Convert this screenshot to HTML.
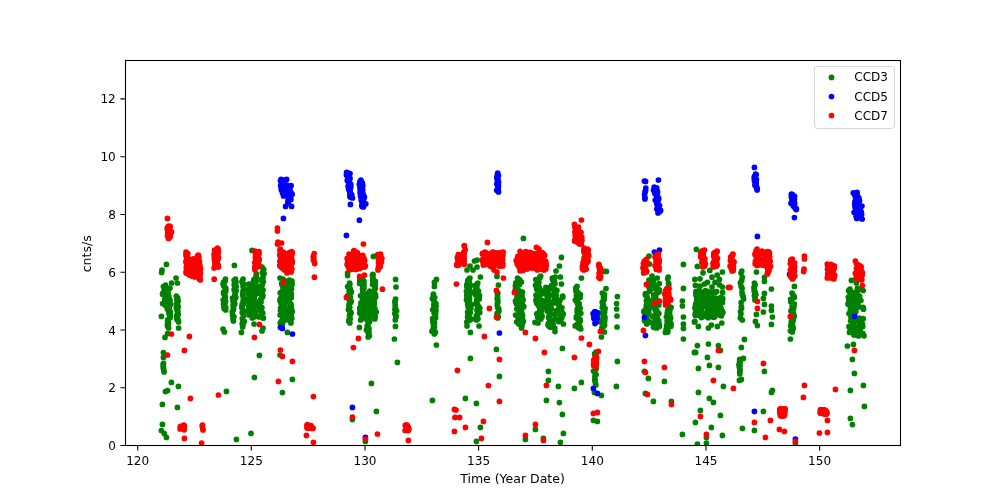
<!DOCTYPE html><html><head><meta charset="utf-8"><title>plot</title><style>html,body{margin:0;padding:0;background:#fff;width:1000px;height:500px;overflow:hidden}</style></head><body><svg width="1000" height="500" viewBox="0 0 1000 500" style="position:absolute;left:0;top:0;will-change:transform">
<rect width="1000" height="500" fill="#fff"/>
<clipPath id="c"><rect x="125" y="60" width="775" height="385"/></clipPath>
<g clip-path="url(#c)">
<g fill="#008000"><circle cx="166.4" cy="264.4" r="2.85"/><circle cx="162.0" cy="270.0" r="2.85"/><circle cx="161.6" cy="272.4" r="2.85"/><circle cx="176.0" cy="278.0" r="2.85"/><circle cx="177.4" cy="283.0" r="2.85"/><circle cx="171.6" cy="283.0" r="2.85"/><circle cx="161.4" cy="316.4" r="2.85"/><circle cx="167.6" cy="333.6" r="2.85"/><circle cx="165.0" cy="337.4" r="2.85"/><circle cx="178.6" cy="328.0" r="2.85"/><circle cx="234.4" cy="265.4" r="2.85"/><circle cx="223.0" cy="329.0" r="2.85"/><circle cx="224.4" cy="332.0" r="2.85"/><circle cx="241.4" cy="332.4" r="2.85"/><circle cx="165.6" cy="285.0" r="2.85"/><circle cx="163.4" cy="286.5" r="2.85"/><circle cx="164.5" cy="287.7" r="2.85"/><circle cx="165.3" cy="289.3" r="2.85"/><circle cx="166.3" cy="290.0" r="2.85"/><circle cx="164.1" cy="291.2" r="2.85"/><circle cx="163.0" cy="293.1" r="2.85"/><circle cx="162.6" cy="294.2" r="2.85"/><circle cx="165.5" cy="295.7" r="2.85"/><circle cx="165.9" cy="296.9" r="2.85"/><circle cx="165.2" cy="297.9" r="2.85"/><circle cx="164.7" cy="299.5" r="2.85"/><circle cx="165.8" cy="300.7" r="2.85"/><circle cx="164.3" cy="302.5" r="2.85"/><circle cx="162.6" cy="303.5" r="2.85"/><circle cx="165.0" cy="304.9" r="2.85"/><circle cx="166.4" cy="306.0" r="2.85"/><circle cx="170.0" cy="288.0" r="2.85"/><circle cx="168.6" cy="289.1" r="2.85"/><circle cx="167.5" cy="290.8" r="2.85"/><circle cx="167.9" cy="292.0" r="2.85"/><circle cx="167.6" cy="292.9" r="2.85"/><circle cx="167.8" cy="295.0" r="2.85"/><circle cx="168.7" cy="295.7" r="2.85"/><circle cx="167.7" cy="297.7" r="2.85"/><circle cx="169.2" cy="298.6" r="2.85"/><circle cx="170.0" cy="300.4" r="2.85"/><circle cx="168.3" cy="301.7" r="2.85"/><circle cx="168.5" cy="302.6" r="2.85"/><circle cx="170.5" cy="304.4" r="2.85"/><circle cx="168.0" cy="305.0" r="2.85"/><circle cx="168.1" cy="306.4" r="2.85"/><circle cx="169.3" cy="308.0" r="2.85"/><circle cx="167.4" cy="309.1" r="2.85"/><circle cx="168.6" cy="310.6" r="2.85"/><circle cx="170.4" cy="312.1" r="2.85"/><circle cx="169.0" cy="313.5" r="2.85"/><circle cx="169.6" cy="314.8" r="2.85"/><circle cx="170.3" cy="315.5" r="2.85"/><circle cx="170.2" cy="317.6" r="2.85"/><circle cx="168.7" cy="319.0" r="2.85"/><circle cx="167.7" cy="319.9" r="2.85"/><circle cx="167.6" cy="321.5" r="2.85"/><circle cx="168.1" cy="322.2" r="2.85"/><circle cx="168.5" cy="323.6" r="2.85"/><circle cx="167.4" cy="324.9" r="2.85"/><circle cx="167.7" cy="326.3" r="2.85"/><circle cx="168.6" cy="328.0" r="2.85"/><circle cx="176.3" cy="296.0" r="2.85"/><circle cx="177.7" cy="297.8" r="2.85"/><circle cx="176.8" cy="298.4" r="2.85"/><circle cx="177.1" cy="299.9" r="2.85"/><circle cx="178.2" cy="301.1" r="2.85"/><circle cx="177.3" cy="303.4" r="2.85"/><circle cx="176.4" cy="304.2" r="2.85"/><circle cx="177.0" cy="305.1" r="2.85"/><circle cx="178.2" cy="306.7" r="2.85"/><circle cx="176.3" cy="307.9" r="2.85"/><circle cx="177.5" cy="310.2" r="2.85"/><circle cx="177.5" cy="310.7" r="2.85"/><circle cx="177.5" cy="311.9" r="2.85"/><circle cx="178.3" cy="314.3" r="2.85"/><circle cx="176.8" cy="315.4" r="2.85"/><circle cx="176.6" cy="316.4" r="2.85"/><circle cx="177.5" cy="318.2" r="2.85"/><circle cx="177.0" cy="319.6" r="2.85"/><circle cx="178.1" cy="320.3" r="2.85"/><circle cx="178.6" cy="322.0" r="2.85"/><circle cx="225.4" cy="279.0" r="2.85"/><circle cx="225.3" cy="280.8" r="2.85"/><circle cx="223.6" cy="282.2" r="2.85"/><circle cx="224.0" cy="283.4" r="2.85"/><circle cx="223.1" cy="284.3" r="2.85"/><circle cx="223.7" cy="286.1" r="2.85"/><circle cx="225.7" cy="288.1" r="2.85"/><circle cx="225.6" cy="289.3" r="2.85"/><circle cx="225.7" cy="291.4" r="2.85"/><circle cx="223.6" cy="292.1" r="2.85"/><circle cx="223.6" cy="293.4" r="2.85"/><circle cx="224.7" cy="294.9" r="2.85"/><circle cx="225.4" cy="297.2" r="2.85"/><circle cx="224.8" cy="298.2" r="2.85"/><circle cx="223.2" cy="300.0" r="2.85"/><circle cx="225.5" cy="301.3" r="2.85"/><circle cx="225.1" cy="303.0" r="2.85"/><circle cx="223.5" cy="304.1" r="2.85"/><circle cx="223.9" cy="305.9" r="2.85"/><circle cx="225.7" cy="307.4" r="2.85"/><circle cx="224.1" cy="308.4" r="2.85"/><circle cx="225.7" cy="310.0" r="2.85"/><circle cx="235.5" cy="279.0" r="2.85"/><circle cx="234.1" cy="280.3" r="2.85"/><circle cx="236.0" cy="282.1" r="2.85"/><circle cx="234.2" cy="284.8" r="2.85"/><circle cx="236.2" cy="286.6" r="2.85"/><circle cx="234.6" cy="288.2" r="2.85"/><circle cx="234.1" cy="289.8" r="2.85"/><circle cx="236.1" cy="290.8" r="2.85"/><circle cx="235.1" cy="293.5" r="2.85"/><circle cx="234.8" cy="295.7" r="2.85"/><circle cx="235.8" cy="297.4" r="2.85"/><circle cx="234.4" cy="298.2" r="2.85"/><circle cx="234.4" cy="300.1" r="2.85"/><circle cx="234.4" cy="302.3" r="2.85"/><circle cx="234.8" cy="304.0" r="2.85"/><circle cx="232.5" cy="298.0" r="2.85"/><circle cx="233.0" cy="300.8" r="2.85"/><circle cx="233.6" cy="302.1" r="2.85"/><circle cx="233.2" cy="304.9" r="2.85"/><circle cx="233.4" cy="307.1" r="2.85"/><circle cx="233.5" cy="308.5" r="2.85"/><circle cx="233.3" cy="309.7" r="2.85"/><circle cx="232.2" cy="312.1" r="2.85"/><circle cx="232.6" cy="315.2" r="2.85"/><circle cx="233.9" cy="316.8" r="2.85"/><circle cx="233.0" cy="319.0" r="2.85"/><circle cx="233.4" cy="321.0" r="2.85"/><circle cx="243.1" cy="279.0" r="2.85"/><circle cx="242.1" cy="281.3" r="2.85"/><circle cx="242.4" cy="282.8" r="2.85"/><circle cx="243.7" cy="284.2" r="2.85"/><circle cx="243.1" cy="286.4" r="2.85"/><circle cx="244.0" cy="288.6" r="2.85"/><circle cx="243.3" cy="290.0" r="2.85"/><circle cx="243.0" cy="291.9" r="2.85"/><circle cx="242.9" cy="294.1" r="2.85"/><circle cx="242.9" cy="295.7" r="2.85"/><circle cx="243.5" cy="298.1" r="2.85"/><circle cx="244.1" cy="299.9" r="2.85"/><circle cx="243.1" cy="300.8" r="2.85"/><circle cx="243.8" cy="303.7" r="2.85"/><circle cx="242.1" cy="304.3" r="2.85"/><circle cx="242.0" cy="306.6" r="2.85"/><circle cx="242.0" cy="308.2" r="2.85"/><circle cx="243.7" cy="310.6" r="2.85"/><circle cx="242.2" cy="312.8" r="2.85"/><circle cx="243.4" cy="314.4" r="2.85"/><circle cx="243.9" cy="315.4" r="2.85"/><circle cx="242.3" cy="318.5" r="2.85"/><circle cx="242.8" cy="320.3" r="2.85"/><circle cx="244.2" cy="321.4" r="2.85"/><circle cx="242.2" cy="323.8" r="2.85"/><circle cx="243.0" cy="325.1" r="2.85"/><circle cx="242.6" cy="327.0" r="2.85"/><circle cx="248.8" cy="284.0" r="2.85"/><circle cx="249.8" cy="285.7" r="2.85"/><circle cx="249.5" cy="287.1" r="2.85"/><circle cx="248.4" cy="289.7" r="2.85"/><circle cx="249.6" cy="291.5" r="2.85"/><circle cx="248.5" cy="293.7" r="2.85"/><circle cx="250.0" cy="296.4" r="2.85"/><circle cx="248.6" cy="298.3" r="2.85"/><circle cx="248.5" cy="299.1" r="2.85"/><circle cx="248.9" cy="301.9" r="2.85"/><circle cx="249.2" cy="302.8" r="2.85"/><circle cx="250.0" cy="306.0" r="2.85"/><circle cx="248.7" cy="306.9" r="2.85"/><circle cx="249.5" cy="309.8" r="2.85"/><circle cx="248.6" cy="311.4" r="2.85"/><circle cx="249.8" cy="312.4" r="2.85"/><circle cx="249.3" cy="315.0" r="2.85"/><circle cx="163.4" cy="352.6" r="2.85"/><circle cx="163.4" cy="357.4" r="2.85"/><circle cx="171.4" cy="382.4" r="2.85"/><circle cx="178.4" cy="386.4" r="2.85"/><circle cx="165.4" cy="391.6" r="2.85"/><circle cx="167.6" cy="390.6" r="2.85"/><circle cx="162.4" cy="404.4" r="2.85"/><circle cx="177.4" cy="407.4" r="2.85"/><circle cx="162.4" cy="424.4" r="2.85"/><circle cx="161.4" cy="430.6" r="2.85"/><circle cx="164.4" cy="433.6" r="2.85"/><circle cx="166.4" cy="437.4" r="2.85"/><circle cx="226.4" cy="391.4" r="2.85"/><circle cx="236.4" cy="439.4" r="2.85"/><circle cx="163.5" cy="363.4" r="2.85"/><circle cx="163.2" cy="364.6" r="2.85"/><circle cx="163.4" cy="366.3" r="2.85"/><circle cx="163.3" cy="368.0" r="2.85"/><circle cx="163.7" cy="369.9" r="2.85"/><circle cx="164.1" cy="372.0" r="2.85"/><circle cx="262.1" cy="267.0" r="2.85"/><circle cx="263.7" cy="269.4" r="2.85"/><circle cx="262.3" cy="272.7" r="2.85"/><circle cx="264.1" cy="273.5" r="2.85"/><circle cx="263.0" cy="277.5" r="2.85"/><circle cx="261.9" cy="279.0" r="2.85"/><circle cx="256.4" cy="274.0" r="2.85"/><circle cx="256.3" cy="275.4" r="2.85"/><circle cx="256.0" cy="277.2" r="2.85"/><circle cx="255.8" cy="278.1" r="2.85"/><circle cx="253.9" cy="279.7" r="2.85"/><circle cx="256.0" cy="282.0" r="2.85"/><circle cx="253.0" cy="282.7" r="2.85"/><circle cx="254.5" cy="284.5" r="2.85"/><circle cx="252.6" cy="286.0" r="2.85"/><circle cx="255.5" cy="287.3" r="2.85"/><circle cx="252.2" cy="289.7" r="2.85"/><circle cx="255.6" cy="290.8" r="2.85"/><circle cx="256.0" cy="291.6" r="2.85"/><circle cx="254.9" cy="293.3" r="2.85"/><circle cx="255.0" cy="295.3" r="2.85"/><circle cx="254.0" cy="296.5" r="2.85"/><circle cx="254.0" cy="298.4" r="2.85"/><circle cx="254.1" cy="300.0" r="2.85"/><circle cx="252.1" cy="301.2" r="2.85"/><circle cx="254.3" cy="303.0" r="2.85"/><circle cx="255.7" cy="304.0" r="2.85"/><circle cx="254.2" cy="306.2" r="2.85"/><circle cx="254.3" cy="307.0" r="2.85"/><circle cx="252.6" cy="308.4" r="2.85"/><circle cx="252.4" cy="310.3" r="2.85"/><circle cx="254.4" cy="311.9" r="2.85"/><circle cx="255.1" cy="312.9" r="2.85"/><circle cx="255.5" cy="314.5" r="2.85"/><circle cx="254.5" cy="316.8" r="2.85"/><circle cx="252.3" cy="318.0" r="2.85"/><circle cx="261.0" cy="280.0" r="2.85"/><circle cx="263.2" cy="281.4" r="2.85"/><circle cx="262.7" cy="282.7" r="2.85"/><circle cx="262.1" cy="285.4" r="2.85"/><circle cx="259.5" cy="286.7" r="2.85"/><circle cx="261.0" cy="288.5" r="2.85"/><circle cx="263.0" cy="290.1" r="2.85"/><circle cx="262.4" cy="290.7" r="2.85"/><circle cx="258.9" cy="293.2" r="2.85"/><circle cx="262.2" cy="294.1" r="2.85"/><circle cx="262.9" cy="295.4" r="2.85"/><circle cx="262.5" cy="297.1" r="2.85"/><circle cx="261.0" cy="298.5" r="2.85"/><circle cx="259.6" cy="301.1" r="2.85"/><circle cx="261.0" cy="301.9" r="2.85"/><circle cx="258.8" cy="303.5" r="2.85"/><circle cx="259.4" cy="304.9" r="2.85"/><circle cx="261.9" cy="307.5" r="2.85"/><circle cx="259.4" cy="309.0" r="2.85"/><circle cx="259.2" cy="310.4" r="2.85"/><circle cx="261.7" cy="311.7" r="2.85"/><circle cx="262.8" cy="313.1" r="2.85"/><circle cx="261.4" cy="314.9" r="2.85"/><circle cx="259.1" cy="316.9" r="2.85"/><circle cx="263.4" cy="318.0" r="2.85"/><circle cx="254.0" cy="324.0" r="2.85"/><circle cx="263.0" cy="328.0" r="2.85"/><circle cx="262.0" cy="331.0" r="2.85"/><circle cx="263.0" cy="318.0" r="2.85"/><circle cx="287.4" cy="332.4" r="2.85"/><circle cx="252.0" cy="250.4" r="2.85"/><circle cx="283.0" cy="279.0" r="2.85"/><circle cx="283.8" cy="280.3" r="2.85"/><circle cx="284.8" cy="281.6" r="2.85"/><circle cx="281.7" cy="283.4" r="2.85"/><circle cx="282.1" cy="285.1" r="2.85"/><circle cx="283.6" cy="285.9" r="2.85"/><circle cx="283.9" cy="287.2" r="2.85"/><circle cx="283.1" cy="288.9" r="2.85"/><circle cx="282.8" cy="291.2" r="2.85"/><circle cx="281.5" cy="292.3" r="2.85"/><circle cx="280.2" cy="292.9" r="2.85"/><circle cx="283.0" cy="294.6" r="2.85"/><circle cx="282.5" cy="296.3" r="2.85"/><circle cx="280.6" cy="298.3" r="2.85"/><circle cx="283.1" cy="299.0" r="2.85"/><circle cx="280.0" cy="300.2" r="2.85"/><circle cx="280.5" cy="302.1" r="2.85"/><circle cx="281.1" cy="303.5" r="2.85"/><circle cx="282.8" cy="305.2" r="2.85"/><circle cx="283.0" cy="306.2" r="2.85"/><circle cx="280.6" cy="308.0" r="2.85"/><circle cx="281.2" cy="310.0" r="2.85"/><circle cx="280.5" cy="310.5" r="2.85"/><circle cx="284.2" cy="312.5" r="2.85"/><circle cx="281.9" cy="314.2" r="2.85"/><circle cx="280.1" cy="315.0" r="2.85"/><circle cx="282.7" cy="316.9" r="2.85"/><circle cx="283.1" cy="318.0" r="2.85"/><circle cx="284.5" cy="319.6" r="2.85"/><circle cx="281.2" cy="321.4" r="2.85"/><circle cx="280.2" cy="323.0" r="2.85"/><circle cx="282.6" cy="324.0" r="2.85"/><circle cx="289.5" cy="280.0" r="2.85"/><circle cx="287.9" cy="281.2" r="2.85"/><circle cx="287.7" cy="283.3" r="2.85"/><circle cx="292.1" cy="284.5" r="2.85"/><circle cx="288.6" cy="285.5" r="2.85"/><circle cx="290.0" cy="287.5" r="2.85"/><circle cx="291.5" cy="289.1" r="2.85"/><circle cx="289.1" cy="290.0" r="2.85"/><circle cx="287.8" cy="291.6" r="2.85"/><circle cx="291.4" cy="293.8" r="2.85"/><circle cx="287.6" cy="295.1" r="2.85"/><circle cx="291.2" cy="296.7" r="2.85"/><circle cx="291.2" cy="297.8" r="2.85"/><circle cx="288.7" cy="299.2" r="2.85"/><circle cx="288.7" cy="300.3" r="2.85"/><circle cx="289.2" cy="301.7" r="2.85"/><circle cx="290.9" cy="304.0" r="2.85"/><circle cx="291.0" cy="305.6" r="2.85"/><circle cx="290.3" cy="306.4" r="2.85"/><circle cx="291.4" cy="308.1" r="2.85"/><circle cx="288.9" cy="309.7" r="2.85"/><circle cx="292.2" cy="311.3" r="2.85"/><circle cx="291.8" cy="312.3" r="2.85"/><circle cx="288.8" cy="313.5" r="2.85"/><circle cx="291.2" cy="315.3" r="2.85"/><circle cx="291.2" cy="317.6" r="2.85"/><circle cx="291.8" cy="318.3" r="2.85"/><circle cx="288.7" cy="319.8" r="2.85"/><circle cx="290.6" cy="322.0" r="2.85"/><circle cx="290.9" cy="323.0" r="2.85"/><circle cx="286.9" cy="285.0" r="2.85"/><circle cx="286.3" cy="289.4" r="2.85"/><circle cx="287.0" cy="292.2" r="2.85"/><circle cx="286.2" cy="295.5" r="2.85"/><circle cx="286.6" cy="298.3" r="2.85"/><circle cx="285.5" cy="300.4" r="2.85"/><circle cx="285.0" cy="304.4" r="2.85"/><circle cx="285.3" cy="308.3" r="2.85"/><circle cx="285.1" cy="309.3" r="2.85"/><circle cx="285.9" cy="314.7" r="2.85"/><circle cx="284.9" cy="315.9" r="2.85"/><circle cx="284.9" cy="320.0" r="2.85"/><circle cx="280.0" cy="278.0" r="2.85"/><circle cx="292.0" cy="281.0" r="2.85"/><circle cx="259.4" cy="355.4" r="2.85"/><circle cx="280.0" cy="355.0" r="2.85"/><circle cx="254.4" cy="377.4" r="2.85"/><circle cx="292.4" cy="379.4" r="2.85"/><circle cx="282.4" cy="392.6" r="2.85"/><circle cx="251.0" cy="433.4" r="2.85"/><circle cx="373.4" cy="256.4" r="2.85"/><circle cx="347.6" cy="273.0" r="2.85"/><circle cx="347.6" cy="275.6" r="2.85"/><circle cx="359.4" cy="327.4" r="2.85"/><circle cx="395.6" cy="279.4" r="2.85"/><circle cx="396.0" cy="287.0" r="2.85"/><circle cx="395.4" cy="326.4" r="2.85"/><circle cx="394.4" cy="339.0" r="2.85"/><circle cx="349.6" cy="283.0" r="2.85"/><circle cx="349.8" cy="284.5" r="2.85"/><circle cx="347.6" cy="286.5" r="2.85"/><circle cx="349.5" cy="288.0" r="2.85"/><circle cx="350.3" cy="289.2" r="2.85"/><circle cx="349.1" cy="291.1" r="2.85"/><circle cx="351.4" cy="292.1" r="2.85"/><circle cx="350.1" cy="293.2" r="2.85"/><circle cx="347.7" cy="295.5" r="2.85"/><circle cx="350.3" cy="297.0" r="2.85"/><circle cx="348.9" cy="298.9" r="2.85"/><circle cx="349.6" cy="300.5" r="2.85"/><circle cx="351.2" cy="301.4" r="2.85"/><circle cx="350.5" cy="302.4" r="2.85"/><circle cx="349.0" cy="304.7" r="2.85"/><circle cx="349.1" cy="306.5" r="2.85"/><circle cx="349.7" cy="307.6" r="2.85"/><circle cx="348.4" cy="309.5" r="2.85"/><circle cx="349.3" cy="310.6" r="2.85"/><circle cx="350.9" cy="312.3" r="2.85"/><circle cx="350.9" cy="313.5" r="2.85"/><circle cx="349.6" cy="315.2" r="2.85"/><circle cx="349.6" cy="316.6" r="2.85"/><circle cx="350.2" cy="319.0" r="2.85"/><circle cx="348.9" cy="320.3" r="2.85"/><circle cx="348.8" cy="321.2" r="2.85"/><circle cx="349.9" cy="323.0" r="2.85"/><circle cx="362.6" cy="278.0" r="2.85"/><circle cx="359.8" cy="279.7" r="2.85"/><circle cx="363.9" cy="281.0" r="2.85"/><circle cx="359.8" cy="282.3" r="2.85"/><circle cx="359.6" cy="283.4" r="2.85"/><circle cx="364.0" cy="284.7" r="2.85"/><circle cx="362.8" cy="286.5" r="2.85"/><circle cx="364.0" cy="288.1" r="2.85"/><circle cx="362.6" cy="289.3" r="2.85"/><circle cx="362.9" cy="290.7" r="2.85"/><circle cx="362.9" cy="292.1" r="2.85"/><circle cx="362.8" cy="293.1" r="2.85"/><circle cx="363.3" cy="294.8" r="2.85"/><circle cx="360.5" cy="295.8" r="2.85"/><circle cx="363.3" cy="297.1" r="2.85"/><circle cx="362.7" cy="299.5" r="2.85"/><circle cx="363.5" cy="300.3" r="2.85"/><circle cx="362.3" cy="302.1" r="2.85"/><circle cx="361.0" cy="302.9" r="2.85"/><circle cx="361.1" cy="304.5" r="2.85"/><circle cx="362.7" cy="305.9" r="2.85"/><circle cx="359.9" cy="307.9" r="2.85"/><circle cx="359.8" cy="308.9" r="2.85"/><circle cx="363.5" cy="309.8" r="2.85"/><circle cx="364.0" cy="311.7" r="2.85"/><circle cx="359.7" cy="312.9" r="2.85"/><circle cx="362.4" cy="314.3" r="2.85"/><circle cx="364.3" cy="316.3" r="2.85"/><circle cx="361.6" cy="317.2" r="2.85"/><circle cx="362.7" cy="318.2" r="2.85"/><circle cx="360.6" cy="320.0" r="2.85"/><circle cx="373.0" cy="274.4" r="2.85"/><circle cx="372.4" cy="275.3" r="2.85"/><circle cx="372.9" cy="277.6" r="2.85"/><circle cx="372.8" cy="279.4" r="2.85"/><circle cx="372.9" cy="280.8" r="2.85"/><circle cx="375.3" cy="281.3" r="2.85"/><circle cx="375.3" cy="283.0" r="2.85"/><circle cx="372.6" cy="284.4" r="2.85"/><circle cx="375.3" cy="286.6" r="2.85"/><circle cx="375.3" cy="288.2" r="2.85"/><circle cx="374.9" cy="288.8" r="2.85"/><circle cx="374.2" cy="291.0" r="2.85"/><circle cx="373.4" cy="292.8" r="2.85"/><circle cx="375.3" cy="294.3" r="2.85"/><circle cx="372.5" cy="294.6" r="2.85"/><circle cx="375.7" cy="296.9" r="2.85"/><circle cx="373.6" cy="297.7" r="2.85"/><circle cx="373.1" cy="299.9" r="2.85"/><circle cx="374.3" cy="301.6" r="2.85"/><circle cx="373.9" cy="302.1" r="2.85"/><circle cx="374.2" cy="304.2" r="2.85"/><circle cx="373.0" cy="305.8" r="2.85"/><circle cx="373.9" cy="307.5" r="2.85"/><circle cx="374.9" cy="308.8" r="2.85"/><circle cx="373.9" cy="310.0" r="2.85"/><circle cx="376.2" cy="311.9" r="2.85"/><circle cx="374.7" cy="313.4" r="2.85"/><circle cx="372.6" cy="314.3" r="2.85"/><circle cx="375.2" cy="316.6" r="2.85"/><circle cx="373.7" cy="317.9" r="2.85"/><circle cx="374.8" cy="319.0" r="2.85"/><circle cx="369.7" cy="291.0" r="2.85"/><circle cx="368.4" cy="293.2" r="2.85"/><circle cx="367.7" cy="294.3" r="2.85"/><circle cx="367.6" cy="296.9" r="2.85"/><circle cx="368.4" cy="298.3" r="2.85"/><circle cx="369.1" cy="300.4" r="2.85"/><circle cx="366.2" cy="301.3" r="2.85"/><circle cx="367.7" cy="303.0" r="2.85"/><circle cx="369.1" cy="305.3" r="2.85"/><circle cx="366.4" cy="307.5" r="2.85"/><circle cx="369.1" cy="309.2" r="2.85"/><circle cx="368.3" cy="311.0" r="2.85"/><circle cx="369.3" cy="311.9" r="2.85"/><circle cx="368.7" cy="314.4" r="2.85"/><circle cx="367.4" cy="316.4" r="2.85"/><circle cx="368.2" cy="317.0" r="2.85"/><circle cx="366.9" cy="319.7" r="2.85"/><circle cx="369.6" cy="321.4" r="2.85"/><circle cx="368.4" cy="322.5" r="2.85"/><circle cx="367.9" cy="324.9" r="2.85"/><circle cx="367.1" cy="326.0" r="2.85"/><circle cx="369.0" cy="328.5" r="2.85"/><circle cx="366.5" cy="329.9" r="2.85"/><circle cx="369.0" cy="332.1" r="2.85"/><circle cx="368.3" cy="333.1" r="2.85"/><circle cx="369.4" cy="335.8" r="2.85"/><circle cx="368.1" cy="337.0" r="2.85"/><circle cx="395.6" cy="299.0" r="2.85"/><circle cx="395.0" cy="301.3" r="2.85"/><circle cx="395.0" cy="302.7" r="2.85"/><circle cx="395.3" cy="305.6" r="2.85"/><circle cx="395.4" cy="307.5" r="2.85"/><circle cx="394.9" cy="309.5" r="2.85"/><circle cx="396.6" cy="310.8" r="2.85"/><circle cx="394.8" cy="313.5" r="2.85"/><circle cx="396.2" cy="316.0" r="2.85"/><circle cx="395.8" cy="317.3" r="2.85"/><circle cx="395.3" cy="320.0" r="2.85"/><circle cx="397.4" cy="362.4" r="2.85"/><circle cx="371.4" cy="383.4" r="2.85"/><circle cx="376.4" cy="411.4" r="2.85"/><circle cx="352.4" cy="419.6" r="2.85"/><circle cx="365.4" cy="441.4" r="2.85"/><circle cx="523.4" cy="238.4" r="2.85"/><circle cx="436.4" cy="279.4" r="2.85"/><circle cx="434.4" cy="282.4" r="2.85"/><circle cx="434.4" cy="286.4" r="2.85"/><circle cx="474.4" cy="261.0" r="2.85"/><circle cx="477.0" cy="260.0" r="2.85"/><circle cx="467.0" cy="270.0" r="2.85"/><circle cx="470.0" cy="266.0" r="2.85"/><circle cx="473.0" cy="270.0" r="2.85"/><circle cx="477.0" cy="267.0" r="2.85"/><circle cx="480.4" cy="277.0" r="2.85"/><circle cx="467.0" cy="326.0" r="2.85"/><circle cx="479.0" cy="326.0" r="2.85"/><circle cx="470.4" cy="332.4" r="2.85"/><circle cx="497.0" cy="276.4" r="2.85"/><circle cx="498.4" cy="285.0" r="2.85"/><circle cx="521.4" cy="282.0" r="2.85"/><circle cx="433.4" cy="294.0" r="2.85"/><circle cx="433.4" cy="295.7" r="2.85"/><circle cx="434.7" cy="297.6" r="2.85"/><circle cx="432.4" cy="298.6" r="2.85"/><circle cx="433.6" cy="300.0" r="2.85"/><circle cx="434.3" cy="301.8" r="2.85"/><circle cx="435.9" cy="303.7" r="2.85"/><circle cx="433.8" cy="304.8" r="2.85"/><circle cx="436.0" cy="306.5" r="2.85"/><circle cx="434.1" cy="307.7" r="2.85"/><circle cx="432.7" cy="309.8" r="2.85"/><circle cx="435.9" cy="310.7" r="2.85"/><circle cx="434.1" cy="312.9" r="2.85"/><circle cx="435.6" cy="313.5" r="2.85"/><circle cx="435.3" cy="315.8" r="2.85"/><circle cx="435.6" cy="317.7" r="2.85"/><circle cx="432.6" cy="318.5" r="2.85"/><circle cx="434.0" cy="319.9" r="2.85"/><circle cx="432.8" cy="321.7" r="2.85"/><circle cx="434.5" cy="322.8" r="2.85"/><circle cx="433.4" cy="324.9" r="2.85"/><circle cx="434.5" cy="326.9" r="2.85"/><circle cx="433.6" cy="327.3" r="2.85"/><circle cx="433.2" cy="329.7" r="2.85"/><circle cx="432.0" cy="331.2" r="2.85"/><circle cx="435.4" cy="332.2" r="2.85"/><circle cx="434.3" cy="334.0" r="2.85"/><circle cx="469.9" cy="278.0" r="2.85"/><circle cx="469.0" cy="279.0" r="2.85"/><circle cx="467.7" cy="280.6" r="2.85"/><circle cx="469.2" cy="282.0" r="2.85"/><circle cx="469.4" cy="283.7" r="2.85"/><circle cx="466.9" cy="284.4" r="2.85"/><circle cx="470.5" cy="285.4" r="2.85"/><circle cx="466.8" cy="286.7" r="2.85"/><circle cx="469.1" cy="288.0" r="2.85"/><circle cx="469.6" cy="290.0" r="2.85"/><circle cx="466.5" cy="291.3" r="2.85"/><circle cx="470.5" cy="291.7" r="2.85"/><circle cx="470.2" cy="293.3" r="2.85"/><circle cx="467.1" cy="294.7" r="2.85"/><circle cx="466.8" cy="295.9" r="2.85"/><circle cx="469.5" cy="297.8" r="2.85"/><circle cx="468.7" cy="298.5" r="2.85"/><circle cx="466.5" cy="299.9" r="2.85"/><circle cx="469.5" cy="301.7" r="2.85"/><circle cx="468.7" cy="303.1" r="2.85"/><circle cx="467.6" cy="304.0" r="2.85"/><circle cx="471.4" cy="304.7" r="2.85"/><circle cx="468.0" cy="306.8" r="2.85"/><circle cx="470.8" cy="308.2" r="2.85"/><circle cx="469.6" cy="308.9" r="2.85"/><circle cx="469.0" cy="310.8" r="2.85"/><circle cx="467.6" cy="312.1" r="2.85"/><circle cx="470.2" cy="312.8" r="2.85"/><circle cx="467.9" cy="313.9" r="2.85"/><circle cx="468.9" cy="315.9" r="2.85"/><circle cx="467.6" cy="317.1" r="2.85"/><circle cx="468.2" cy="317.8" r="2.85"/><circle cx="471.6" cy="319.1" r="2.85"/><circle cx="469.3" cy="320.5" r="2.85"/><circle cx="466.8" cy="322.0" r="2.85"/><circle cx="477.8" cy="283.0" r="2.85"/><circle cx="477.1" cy="284.3" r="2.85"/><circle cx="475.5" cy="285.4" r="2.85"/><circle cx="476.8" cy="287.6" r="2.85"/><circle cx="475.9" cy="288.4" r="2.85"/><circle cx="476.1" cy="289.9" r="2.85"/><circle cx="478.5" cy="291.0" r="2.85"/><circle cx="475.7" cy="292.8" r="2.85"/><circle cx="475.3" cy="294.6" r="2.85"/><circle cx="479.5" cy="295.5" r="2.85"/><circle cx="477.3" cy="296.8" r="2.85"/><circle cx="479.3" cy="299.0" r="2.85"/><circle cx="476.8" cy="299.7" r="2.85"/><circle cx="476.9" cy="301.8" r="2.85"/><circle cx="476.0" cy="303.4" r="2.85"/><circle cx="477.6" cy="304.9" r="2.85"/><circle cx="477.3" cy="305.5" r="2.85"/><circle cx="478.8" cy="306.8" r="2.85"/><circle cx="479.8" cy="308.3" r="2.85"/><circle cx="476.9" cy="310.1" r="2.85"/><circle cx="478.2" cy="311.2" r="2.85"/><circle cx="479.7" cy="312.6" r="2.85"/><circle cx="477.7" cy="313.9" r="2.85"/><circle cx="476.3" cy="315.8" r="2.85"/><circle cx="477.0" cy="317.5" r="2.85"/><circle cx="478.0" cy="318.8" r="2.85"/><circle cx="476.5" cy="320.0" r="2.85"/><circle cx="497.8" cy="293.0" r="2.85"/><circle cx="497.4" cy="294.2" r="2.85"/><circle cx="497.6" cy="297.1" r="2.85"/><circle cx="497.2" cy="298.6" r="2.85"/><circle cx="497.7" cy="300.2" r="2.85"/><circle cx="497.6" cy="301.9" r="2.85"/><circle cx="497.6" cy="303.1" r="2.85"/><circle cx="497.3" cy="305.1" r="2.85"/><circle cx="497.6" cy="307.6" r="2.85"/><circle cx="498.8" cy="308.9" r="2.85"/><circle cx="498.8" cy="311.2" r="2.85"/><circle cx="497.3" cy="313.2" r="2.85"/><circle cx="497.1" cy="314.1" r="2.85"/><circle cx="498.3" cy="316.5" r="2.85"/><circle cx="497.7" cy="318.0" r="2.85"/><circle cx="517.5" cy="278.0" r="2.85"/><circle cx="519.1" cy="279.4" r="2.85"/><circle cx="519.9" cy="280.3" r="2.85"/><circle cx="518.7" cy="281.7" r="2.85"/><circle cx="515.8" cy="282.8" r="2.85"/><circle cx="519.3" cy="284.8" r="2.85"/><circle cx="515.4" cy="285.9" r="2.85"/><circle cx="516.1" cy="286.5" r="2.85"/><circle cx="516.9" cy="287.9" r="2.85"/><circle cx="515.4" cy="289.4" r="2.85"/><circle cx="518.8" cy="290.6" r="2.85"/><circle cx="519.9" cy="291.7" r="2.85"/><circle cx="519.2" cy="293.4" r="2.85"/><circle cx="517.6" cy="294.4" r="2.85"/><circle cx="517.2" cy="296.1" r="2.85"/><circle cx="519.9" cy="296.7" r="2.85"/><circle cx="516.8" cy="298.7" r="2.85"/><circle cx="520.0" cy="299.3" r="2.85"/><circle cx="515.5" cy="301.1" r="2.85"/><circle cx="515.8" cy="302.0" r="2.85"/><circle cx="516.4" cy="303.9" r="2.85"/><circle cx="519.4" cy="305.3" r="2.85"/><circle cx="519.1" cy="305.7" r="2.85"/><circle cx="519.4" cy="307.3" r="2.85"/><circle cx="516.8" cy="309.0" r="2.85"/><circle cx="520.5" cy="309.5" r="2.85"/><circle cx="520.4" cy="311.1" r="2.85"/><circle cx="519.3" cy="312.7" r="2.85"/><circle cx="518.7" cy="314.1" r="2.85"/><circle cx="515.5" cy="315.0" r="2.85"/><circle cx="517.6" cy="316.5" r="2.85"/><circle cx="520.4" cy="317.6" r="2.85"/><circle cx="519.5" cy="318.5" r="2.85"/><circle cx="519.1" cy="319.7" r="2.85"/><circle cx="516.7" cy="321.8" r="2.85"/><circle cx="520.6" cy="322.8" r="2.85"/><circle cx="518.8" cy="324.0" r="2.85"/><circle cx="522.5" cy="292.0" r="2.85"/><circle cx="521.0" cy="293.7" r="2.85"/><circle cx="522.1" cy="296.0" r="2.85"/><circle cx="521.8" cy="297.8" r="2.85"/><circle cx="523.1" cy="299.9" r="2.85"/><circle cx="521.6" cy="302.9" r="2.85"/><circle cx="522.4" cy="304.3" r="2.85"/><circle cx="523.8" cy="306.7" r="2.85"/><circle cx="521.8" cy="308.7" r="2.85"/><circle cx="521.3" cy="311.7" r="2.85"/><circle cx="521.9" cy="313.3" r="2.85"/><circle cx="522.6" cy="315.8" r="2.85"/><circle cx="521.3" cy="317.9" r="2.85"/><circle cx="522.7" cy="319.8" r="2.85"/><circle cx="523.3" cy="321.6" r="2.85"/><circle cx="521.2" cy="324.3" r="2.85"/><circle cx="522.0" cy="325.5" r="2.85"/><circle cx="521.5" cy="328.0" r="2.85"/><circle cx="436.4" cy="345.0" r="2.85"/><circle cx="496.4" cy="349.4" r="2.85"/><circle cx="470.4" cy="358.4" r="2.85"/><circle cx="499.4" cy="376.4" r="2.85"/><circle cx="432.4" cy="400.4" r="2.85"/><circle cx="465.4" cy="398.4" r="2.85"/><circle cx="476.4" cy="403.4" r="2.85"/><circle cx="480.4" cy="427.4" r="2.85"/><circle cx="476.4" cy="441.4" r="2.85"/><circle cx="525.4" cy="439.4" r="2.85"/><circle cx="561.4" cy="257.4" r="2.85"/><circle cx="559.4" cy="266.0" r="2.85"/><circle cx="556.0" cy="271.0" r="2.85"/><circle cx="560.4" cy="277.0" r="2.85"/><circle cx="561.4" cy="284.0" r="2.85"/><circle cx="581.4" cy="278.0" r="2.85"/><circle cx="606.4" cy="271.4" r="2.85"/><circle cx="604.4" cy="271.4" r="2.85"/><circle cx="538.0" cy="323.0" r="2.85"/><circle cx="535.0" cy="322.4" r="2.85"/><circle cx="555.0" cy="331.6" r="2.85"/><circle cx="548.0" cy="325.0" r="2.85"/><circle cx="606.0" cy="288.6" r="2.85"/><circle cx="601.4" cy="337.0" r="2.85"/><circle cx="604.4" cy="332.0" r="2.85"/><circle cx="617.4" cy="296.6" r="2.85"/><circle cx="616.6" cy="303.6" r="2.85"/><circle cx="616.6" cy="309.0" r="2.85"/><circle cx="617.0" cy="316.0" r="2.85"/><circle cx="617.0" cy="327.0" r="2.85"/><circle cx="540.7" cy="276.0" r="2.85"/><circle cx="540.0" cy="277.2" r="2.85"/><circle cx="539.4" cy="278.2" r="2.85"/><circle cx="535.8" cy="279.5" r="2.85"/><circle cx="537.7" cy="280.6" r="2.85"/><circle cx="538.9" cy="282.4" r="2.85"/><circle cx="537.2" cy="283.0" r="2.85"/><circle cx="537.9" cy="284.1" r="2.85"/><circle cx="535.5" cy="285.2" r="2.85"/><circle cx="538.7" cy="287.1" r="2.85"/><circle cx="539.5" cy="287.9" r="2.85"/><circle cx="536.6" cy="289.0" r="2.85"/><circle cx="537.6" cy="289.9" r="2.85"/><circle cx="540.6" cy="291.3" r="2.85"/><circle cx="542.1" cy="292.8" r="2.85"/><circle cx="542.0" cy="293.8" r="2.85"/><circle cx="536.0" cy="295.2" r="2.85"/><circle cx="539.6" cy="296.0" r="2.85"/><circle cx="538.0" cy="298.0" r="2.85"/><circle cx="538.5" cy="299.0" r="2.85"/><circle cx="535.9" cy="300.2" r="2.85"/><circle cx="541.9" cy="301.1" r="2.85"/><circle cx="537.3" cy="302.1" r="2.85"/><circle cx="536.6" cy="303.0" r="2.85"/><circle cx="540.5" cy="304.4" r="2.85"/><circle cx="538.3" cy="305.6" r="2.85"/><circle cx="539.7" cy="306.8" r="2.85"/><circle cx="540.1" cy="308.6" r="2.85"/><circle cx="540.7" cy="309.2" r="2.85"/><circle cx="539.7" cy="311.1" r="2.85"/><circle cx="541.2" cy="311.4" r="2.85"/><circle cx="537.9" cy="313.4" r="2.85"/><circle cx="536.8" cy="313.9" r="2.85"/><circle cx="541.7" cy="315.5" r="2.85"/><circle cx="542.0" cy="316.7" r="2.85"/><circle cx="537.8" cy="317.5" r="2.85"/><circle cx="540.8" cy="319.0" r="2.85"/><circle cx="547.3" cy="300.4" r="2.85"/><circle cx="547.6" cy="298.1" r="2.85"/><circle cx="542.8" cy="300.7" r="2.85"/><circle cx="542.7" cy="307.7" r="2.85"/><circle cx="544.9" cy="303.3" r="2.85"/><circle cx="546.9" cy="295.5" r="2.85"/><circle cx="545.9" cy="287.4" r="2.85"/><circle cx="549.4" cy="305.6" r="2.85"/><circle cx="549.9" cy="288.8" r="2.85"/><circle cx="547.1" cy="310.9" r="2.85"/><circle cx="544.9" cy="290.1" r="2.85"/><circle cx="543.6" cy="291.7" r="2.85"/><circle cx="548.2" cy="290.0" r="2.85"/><circle cx="555.1" cy="277.0" r="2.85"/><circle cx="552.4" cy="278.0" r="2.85"/><circle cx="552.5" cy="279.2" r="2.85"/><circle cx="553.0" cy="280.3" r="2.85"/><circle cx="554.4" cy="281.0" r="2.85"/><circle cx="554.1" cy="282.0" r="2.85"/><circle cx="554.8" cy="283.5" r="2.85"/><circle cx="554.7" cy="284.1" r="2.85"/><circle cx="551.5" cy="285.7" r="2.85"/><circle cx="552.2" cy="286.2" r="2.85"/><circle cx="548.3" cy="287.8" r="2.85"/><circle cx="551.8" cy="288.0" r="2.85"/><circle cx="554.7" cy="289.6" r="2.85"/><circle cx="556.9" cy="290.4" r="2.85"/><circle cx="554.6" cy="291.3" r="2.85"/><circle cx="547.3" cy="292.3" r="2.85"/><circle cx="547.6" cy="293.3" r="2.85"/><circle cx="552.6" cy="294.7" r="2.85"/><circle cx="556.4" cy="295.5" r="2.85"/><circle cx="548.5" cy="296.7" r="2.85"/><circle cx="554.4" cy="297.5" r="2.85"/><circle cx="548.6" cy="299.2" r="2.85"/><circle cx="554.8" cy="299.5" r="2.85"/><circle cx="556.8" cy="300.7" r="2.85"/><circle cx="553.4" cy="302.0" r="2.85"/><circle cx="555.0" cy="302.9" r="2.85"/><circle cx="550.2" cy="304.0" r="2.85"/><circle cx="548.1" cy="305.4" r="2.85"/><circle cx="547.7" cy="306.3" r="2.85"/><circle cx="551.0" cy="307.3" r="2.85"/><circle cx="547.6" cy="308.5" r="2.85"/><circle cx="551.1" cy="309.3" r="2.85"/><circle cx="556.4" cy="310.7" r="2.85"/><circle cx="549.2" cy="311.5" r="2.85"/><circle cx="549.6" cy="312.2" r="2.85"/><circle cx="549.3" cy="313.4" r="2.85"/><circle cx="554.6" cy="314.2" r="2.85"/><circle cx="550.0" cy="315.6" r="2.85"/><circle cx="549.2" cy="317.0" r="2.85"/><circle cx="548.6" cy="317.6" r="2.85"/><circle cx="555.7" cy="318.9" r="2.85"/><circle cx="554.5" cy="319.5" r="2.85"/><circle cx="549.8" cy="321.0" r="2.85"/><circle cx="551.9" cy="321.6" r="2.85"/><circle cx="548.6" cy="323.1" r="2.85"/><circle cx="553.0" cy="324.0" r="2.85"/><circle cx="552.8" cy="324.8" r="2.85"/><circle cx="549.1" cy="326.2" r="2.85"/><circle cx="550.6" cy="327.3" r="2.85"/><circle cx="554.8" cy="328.0" r="2.85"/><circle cx="562.7" cy="296.0" r="2.85"/><circle cx="562.7" cy="297.3" r="2.85"/><circle cx="560.0" cy="300.2" r="2.85"/><circle cx="559.1" cy="300.6" r="2.85"/><circle cx="558.6" cy="303.7" r="2.85"/><circle cx="559.3" cy="305.3" r="2.85"/><circle cx="559.1" cy="306.8" r="2.85"/><circle cx="561.9" cy="307.8" r="2.85"/><circle cx="560.2" cy="309.4" r="2.85"/><circle cx="562.0" cy="312.3" r="2.85"/><circle cx="563.3" cy="314.0" r="2.85"/><circle cx="559.7" cy="314.6" r="2.85"/><circle cx="561.9" cy="317.4" r="2.85"/><circle cx="561.0" cy="318.1" r="2.85"/><circle cx="560.7" cy="320.1" r="2.85"/><circle cx="558.7" cy="321.7" r="2.85"/><circle cx="563.4" cy="324.0" r="2.85"/><circle cx="577.0" cy="286.4" r="2.85"/><circle cx="575.9" cy="287.9" r="2.85"/><circle cx="576.0" cy="288.8" r="2.85"/><circle cx="576.2" cy="289.9" r="2.85"/><circle cx="576.0" cy="291.3" r="2.85"/><circle cx="578.0" cy="292.5" r="2.85"/><circle cx="577.2" cy="293.1" r="2.85"/><circle cx="580.3" cy="294.7" r="2.85"/><circle cx="576.4" cy="295.7" r="2.85"/><circle cx="580.1" cy="297.5" r="2.85"/><circle cx="576.7" cy="298.5" r="2.85"/><circle cx="576.7" cy="299.1" r="2.85"/><circle cx="575.4" cy="300.2" r="2.85"/><circle cx="577.5" cy="301.8" r="2.85"/><circle cx="577.2" cy="303.0" r="2.85"/><circle cx="579.1" cy="303.7" r="2.85"/><circle cx="578.2" cy="305.5" r="2.85"/><circle cx="579.1" cy="306.6" r="2.85"/><circle cx="580.1" cy="308.2" r="2.85"/><circle cx="577.4" cy="309.1" r="2.85"/><circle cx="577.5" cy="309.9" r="2.85"/><circle cx="577.4" cy="311.7" r="2.85"/><circle cx="577.5" cy="312.3" r="2.85"/><circle cx="580.8" cy="313.3" r="2.85"/><circle cx="578.6" cy="314.3" r="2.85"/><circle cx="576.6" cy="316.4" r="2.85"/><circle cx="577.3" cy="317.3" r="2.85"/><circle cx="576.3" cy="318.1" r="2.85"/><circle cx="579.9" cy="319.2" r="2.85"/><circle cx="580.3" cy="321.0" r="2.85"/><circle cx="579.1" cy="321.5" r="2.85"/><circle cx="578.8" cy="322.9" r="2.85"/><circle cx="577.0" cy="324.3" r="2.85"/><circle cx="575.2" cy="325.9" r="2.85"/><circle cx="580.0" cy="326.9" r="2.85"/><circle cx="578.5" cy="327.8" r="2.85"/><circle cx="580.8" cy="329.0" r="2.85"/><circle cx="602.3" cy="293.0" r="2.85"/><circle cx="604.4" cy="294.6" r="2.85"/><circle cx="604.2" cy="295.8" r="2.85"/><circle cx="603.5" cy="297.3" r="2.85"/><circle cx="604.1" cy="299.0" r="2.85"/><circle cx="603.9" cy="300.1" r="2.85"/><circle cx="602.3" cy="301.8" r="2.85"/><circle cx="602.5" cy="303.3" r="2.85"/><circle cx="603.3" cy="305.1" r="2.85"/><circle cx="603.5" cy="306.4" r="2.85"/><circle cx="602.3" cy="307.6" r="2.85"/><circle cx="605.1" cy="308.6" r="2.85"/><circle cx="603.5" cy="310.5" r="2.85"/><circle cx="604.7" cy="312.0" r="2.85"/><circle cx="602.1" cy="313.1" r="2.85"/><circle cx="603.2" cy="315.3" r="2.85"/><circle cx="604.7" cy="316.5" r="2.85"/><circle cx="604.9" cy="318.3" r="2.85"/><circle cx="602.9" cy="318.7" r="2.85"/><circle cx="604.7" cy="321.1" r="2.85"/><circle cx="602.0" cy="321.7" r="2.85"/><circle cx="601.8" cy="323.3" r="2.85"/><circle cx="604.6" cy="324.9" r="2.85"/><circle cx="603.2" cy="326.6" r="2.85"/><circle cx="601.8" cy="328.0" r="2.85"/><circle cx="562.4" cy="348.4" r="2.85"/><circle cx="548.4" cy="371.4" r="2.85"/><circle cx="548.4" cy="380.4" r="2.85"/><circle cx="558.4" cy="386.4" r="2.85"/><circle cx="574.4" cy="388.4" r="2.85"/><circle cx="581.4" cy="382.4" r="2.85"/><circle cx="546.4" cy="400.4" r="2.85"/><circle cx="559.4" cy="402.6" r="2.85"/><circle cx="562.4" cy="414.4" r="2.85"/><circle cx="535.4" cy="429.4" r="2.85"/><circle cx="563.4" cy="433.4" r="2.85"/><circle cx="543.4" cy="438.4" r="2.85"/><circle cx="560.4" cy="442.4" r="2.85"/><circle cx="617.4" cy="361.4" r="2.85"/><circle cx="616.4" cy="386.4" r="2.85"/><circle cx="601.4" cy="395.4" r="2.85"/><circle cx="594.4" cy="392.4" r="2.85"/><circle cx="593.4" cy="420.4" r="2.85"/><circle cx="597.4" cy="421.4" r="2.85"/><circle cx="596.0" cy="352.0" r="2.85"/><circle cx="594.6" cy="353.8" r="2.85"/><circle cx="596.4" cy="356.3" r="2.85"/><circle cx="596.5" cy="357.7" r="2.85"/><circle cx="594.6" cy="360.6" r="2.85"/><circle cx="594.5" cy="362.6" r="2.85"/><circle cx="595.8" cy="363.7" r="2.85"/><circle cx="595.1" cy="366.2" r="2.85"/><circle cx="596.3" cy="368.5" r="2.85"/><circle cx="593.5" cy="371.0" r="2.85"/><circle cx="594.9" cy="372.8" r="2.85"/><circle cx="596.1" cy="374.6" r="2.85"/><circle cx="594.9" cy="376.6" r="2.85"/><circle cx="594.8" cy="379.5" r="2.85"/><circle cx="595.0" cy="380.9" r="2.85"/><circle cx="595.5" cy="383.5" r="2.85"/><circle cx="595.8" cy="385.0" r="2.85"/><circle cx="696.4" cy="249.4" r="2.85"/><circle cx="683.4" cy="264.4" r="2.85"/><circle cx="697.4" cy="266.4" r="2.85"/><circle cx="722.4" cy="272.0" r="2.85"/><circle cx="683.4" cy="288.4" r="2.85"/><circle cx="649.0" cy="256.0" r="2.85"/><circle cx="649.4" cy="264.0" r="2.85"/><circle cx="652.0" cy="276.0" r="2.85"/><circle cx="654.4" cy="327.4" r="2.85"/><circle cx="659.4" cy="326.4" r="2.85"/><circle cx="650.4" cy="322.4" r="2.85"/><circle cx="665.4" cy="332.4" r="2.85"/><circle cx="682.4" cy="301.0" r="2.85"/><circle cx="682.4" cy="306.0" r="2.85"/><circle cx="683.4" cy="317.0" r="2.85"/><circle cx="683.4" cy="324.0" r="2.85"/><circle cx="683.4" cy="328.4" r="2.85"/><circle cx="683.4" cy="339.0" r="2.85"/><circle cx="698.4" cy="326.4" r="2.85"/><circle cx="708.4" cy="328.0" r="2.85"/><circle cx="717.4" cy="326.4" r="2.85"/><circle cx="711.4" cy="325.0" r="2.85"/><circle cx="694.4" cy="322.0" r="2.85"/><circle cx="649.0" cy="280.0" r="2.85"/><circle cx="649.4" cy="282.0" r="2.85"/><circle cx="649.0" cy="283.2" r="2.85"/><circle cx="647.5" cy="284.8" r="2.85"/><circle cx="649.0" cy="285.8" r="2.85"/><circle cx="649.2" cy="287.7" r="2.85"/><circle cx="649.8" cy="288.6" r="2.85"/><circle cx="649.7" cy="290.3" r="2.85"/><circle cx="649.8" cy="291.3" r="2.85"/><circle cx="645.5" cy="293.5" r="2.85"/><circle cx="645.4" cy="295.1" r="2.85"/><circle cx="646.7" cy="295.8" r="2.85"/><circle cx="647.0" cy="297.3" r="2.85"/><circle cx="648.1" cy="299.5" r="2.85"/><circle cx="646.4" cy="300.8" r="2.85"/><circle cx="648.8" cy="302.3" r="2.85"/><circle cx="649.7" cy="303.7" r="2.85"/><circle cx="646.4" cy="305.3" r="2.85"/><circle cx="647.9" cy="305.9" r="2.85"/><circle cx="646.0" cy="308.3" r="2.85"/><circle cx="649.0" cy="309.4" r="2.85"/><circle cx="644.0" cy="311.1" r="2.85"/><circle cx="644.1" cy="312.3" r="2.85"/><circle cx="648.9" cy="313.3" r="2.85"/><circle cx="647.6" cy="315.1" r="2.85"/><circle cx="646.0" cy="316.6" r="2.85"/><circle cx="646.1" cy="317.8" r="2.85"/><circle cx="647.7" cy="320.0" r="2.85"/><circle cx="644.5" cy="320.8" r="2.85"/><circle cx="648.2" cy="322.3" r="2.85"/><circle cx="646.7" cy="324.0" r="2.85"/><circle cx="657.2" cy="278.0" r="2.85"/><circle cx="653.3" cy="279.8" r="2.85"/><circle cx="652.7" cy="281.2" r="2.85"/><circle cx="653.7" cy="282.8" r="2.85"/><circle cx="659.3" cy="283.6" r="2.85"/><circle cx="654.0" cy="285.2" r="2.85"/><circle cx="656.8" cy="287.3" r="2.85"/><circle cx="655.2" cy="288.8" r="2.85"/><circle cx="659.3" cy="289.8" r="2.85"/><circle cx="659.5" cy="291.2" r="2.85"/><circle cx="658.4" cy="292.3" r="2.85"/><circle cx="656.2" cy="293.8" r="2.85"/><circle cx="653.7" cy="295.1" r="2.85"/><circle cx="655.7" cy="297.6" r="2.85"/><circle cx="654.2" cy="299.0" r="2.85"/><circle cx="653.1" cy="299.9" r="2.85"/><circle cx="658.6" cy="301.6" r="2.85"/><circle cx="655.1" cy="303.0" r="2.85"/><circle cx="658.8" cy="305.0" r="2.85"/><circle cx="652.9" cy="306.1" r="2.85"/><circle cx="655.6" cy="307.6" r="2.85"/><circle cx="655.0" cy="309.4" r="2.85"/><circle cx="656.9" cy="310.5" r="2.85"/><circle cx="656.2" cy="311.7" r="2.85"/><circle cx="658.9" cy="313.5" r="2.85"/><circle cx="655.0" cy="314.8" r="2.85"/><circle cx="652.8" cy="316.8" r="2.85"/><circle cx="657.3" cy="318.1" r="2.85"/><circle cx="655.6" cy="319.2" r="2.85"/><circle cx="658.8" cy="320.9" r="2.85"/><circle cx="657.8" cy="322.4" r="2.85"/><circle cx="654.7" cy="323.0" r="2.85"/><circle cx="659.3" cy="324.6" r="2.85"/><circle cx="653.4" cy="327.0" r="2.85"/><circle cx="656.6" cy="328.0" r="2.85"/><circle cx="668.2" cy="277.0" r="2.85"/><circle cx="667.7" cy="278.8" r="2.85"/><circle cx="668.5" cy="283.0" r="2.85"/><circle cx="668.8" cy="284.8" r="2.85"/><circle cx="667.3" cy="288.0" r="2.85"/><circle cx="668.6" cy="306.0" r="2.85"/><circle cx="671.1" cy="307.3" r="2.85"/><circle cx="670.1" cy="308.9" r="2.85"/><circle cx="667.7" cy="310.3" r="2.85"/><circle cx="669.6" cy="312.0" r="2.85"/><circle cx="667.2" cy="313.1" r="2.85"/><circle cx="668.8" cy="313.8" r="2.85"/><circle cx="670.0" cy="315.9" r="2.85"/><circle cx="666.4" cy="316.8" r="2.85"/><circle cx="670.5" cy="318.3" r="2.85"/><circle cx="669.7" cy="319.3" r="2.85"/><circle cx="667.3" cy="320.7" r="2.85"/><circle cx="667.3" cy="321.9" r="2.85"/><circle cx="671.0" cy="323.7" r="2.85"/><circle cx="666.6" cy="325.7" r="2.85"/><circle cx="670.9" cy="326.3" r="2.85"/><circle cx="667.4" cy="327.6" r="2.85"/><circle cx="666.2" cy="329.2" r="2.85"/><circle cx="667.8" cy="330.4" r="2.85"/><circle cx="667.8" cy="332.0" r="2.85"/><circle cx="722.0" cy="297.8" r="2.85"/><circle cx="700.6" cy="315.5" r="2.85"/><circle cx="707.5" cy="313.5" r="2.85"/><circle cx="712.8" cy="311.9" r="2.85"/><circle cx="703.7" cy="294.6" r="2.85"/><circle cx="716.1" cy="303.4" r="2.85"/><circle cx="710.6" cy="308.9" r="2.85"/><circle cx="716.0" cy="298.0" r="2.85"/><circle cx="705.0" cy="315.7" r="2.85"/><circle cx="709.7" cy="298.4" r="2.85"/><circle cx="712.6" cy="297.6" r="2.85"/><circle cx="716.6" cy="291.5" r="2.85"/><circle cx="718.1" cy="306.0" r="2.85"/><circle cx="704.8" cy="316.3" r="2.85"/><circle cx="702.3" cy="297.1" r="2.85"/><circle cx="696.8" cy="305.5" r="2.85"/><circle cx="716.1" cy="309.1" r="2.85"/><circle cx="706.4" cy="312.7" r="2.85"/><circle cx="697.9" cy="298.9" r="2.85"/><circle cx="713.0" cy="317.1" r="2.85"/><circle cx="712.7" cy="309.5" r="2.85"/><circle cx="716.6" cy="301.3" r="2.85"/><circle cx="721.3" cy="310.9" r="2.85"/><circle cx="704.4" cy="301.2" r="2.85"/><circle cx="717.5" cy="300.1" r="2.85"/><circle cx="700.0" cy="314.5" r="2.85"/><circle cx="709.8" cy="304.8" r="2.85"/><circle cx="713.7" cy="315.3" r="2.85"/><circle cx="698.6" cy="299.7" r="2.85"/><circle cx="696.7" cy="301.8" r="2.85"/><circle cx="709.0" cy="313.9" r="2.85"/><circle cx="713.6" cy="306.3" r="2.85"/><circle cx="706.2" cy="306.2" r="2.85"/><circle cx="702.5" cy="313.7" r="2.85"/><circle cx="717.0" cy="313.5" r="2.85"/><circle cx="699.1" cy="308.9" r="2.85"/><circle cx="716.1" cy="304.2" r="2.85"/><circle cx="720.1" cy="315.2" r="2.85"/><circle cx="715.8" cy="313.1" r="2.85"/><circle cx="713.1" cy="314.7" r="2.85"/><circle cx="698.5" cy="309.8" r="2.85"/><circle cx="714.6" cy="307.3" r="2.85"/><circle cx="702.6" cy="292.3" r="2.85"/><circle cx="711.8" cy="313.1" r="2.85"/><circle cx="702.5" cy="296.3" r="2.85"/><circle cx="701.1" cy="293.0" r="2.85"/><circle cx="713.9" cy="317.3" r="2.85"/><circle cx="717.4" cy="300.3" r="2.85"/><circle cx="714.5" cy="292.4" r="2.85"/><circle cx="718.4" cy="299.4" r="2.85"/><circle cx="694.9" cy="307.8" r="2.85"/><circle cx="698.7" cy="298.0" r="2.85"/><circle cx="696.5" cy="302.7" r="2.85"/><circle cx="710.4" cy="312.7" r="2.85"/><circle cx="695.9" cy="313.2" r="2.85"/><circle cx="697.9" cy="296.6" r="2.85"/><circle cx="712.6" cy="299.8" r="2.85"/><circle cx="704.1" cy="306.1" r="2.85"/><circle cx="700.9" cy="312.3" r="2.85"/><circle cx="700.7" cy="313.6" r="2.85"/><circle cx="717.6" cy="305.2" r="2.85"/><circle cx="695.7" cy="311.9" r="2.85"/><circle cx="695.6" cy="304.3" r="2.85"/><circle cx="706.8" cy="292.1" r="2.85"/><circle cx="712.6" cy="310.4" r="2.85"/><circle cx="711.3" cy="301.4" r="2.85"/><circle cx="709.2" cy="306.6" r="2.85"/><circle cx="701.2" cy="314.3" r="2.85"/><circle cx="722.9" cy="312.6" r="2.85"/><circle cx="721.9" cy="299.5" r="2.85"/><circle cx="722.6" cy="292.4" r="2.85"/><circle cx="708.3" cy="294.1" r="2.85"/><circle cx="707.6" cy="309.2" r="2.85"/><circle cx="714.8" cy="302.9" r="2.85"/><circle cx="704.4" cy="295.6" r="2.85"/><circle cx="706.2" cy="298.2" r="2.85"/><circle cx="700.3" cy="310.7" r="2.85"/><circle cx="709.4" cy="302.5" r="2.85"/><circle cx="700.4" cy="309.8" r="2.85"/><circle cx="700.3" cy="297.7" r="2.85"/><circle cx="710.6" cy="309.8" r="2.85"/><circle cx="722.2" cy="311.0" r="2.85"/><circle cx="721.5" cy="315.8" r="2.85"/><circle cx="715.2" cy="310.3" r="2.85"/><circle cx="696.6" cy="296.1" r="2.85"/><circle cx="695.2" cy="314.2" r="2.85"/><circle cx="715.2" cy="307.8" r="2.85"/><circle cx="702.2" cy="300.2" r="2.85"/><circle cx="699.4" cy="307.8" r="2.85"/><circle cx="722.8" cy="298.8" r="2.85"/><circle cx="696.0" cy="295.2" r="2.85"/><circle cx="704.8" cy="315.2" r="2.85"/><circle cx="717.5" cy="303.0" r="2.85"/><circle cx="697.7" cy="293.3" r="2.85"/><circle cx="699.1" cy="311.9" r="2.85"/><circle cx="708.1" cy="317.7" r="2.85"/><circle cx="720.5" cy="312.3" r="2.85"/><circle cx="708.2" cy="313.1" r="2.85"/><circle cx="698.4" cy="293.4" r="2.85"/><circle cx="710.7" cy="304.4" r="2.85"/><circle cx="700.7" cy="297.4" r="2.85"/><circle cx="695.4" cy="315.5" r="2.85"/><circle cx="714.8" cy="316.5" r="2.85"/><circle cx="722.5" cy="302.5" r="2.85"/><circle cx="715.5" cy="301.0" r="2.85"/><circle cx="717.7" cy="313.6" r="2.85"/><circle cx="698.6" cy="290.8" r="2.85"/><circle cx="700.8" cy="306.6" r="2.85"/><circle cx="705.5" cy="290.7" r="2.85"/><circle cx="718.2" cy="312.1" r="2.85"/><circle cx="707.9" cy="291.6" r="2.85"/><circle cx="719.9" cy="305.1" r="2.85"/><circle cx="696.8" cy="299.3" r="2.85"/><circle cx="712.4" cy="314.8" r="2.85"/><circle cx="708.5" cy="308.0" r="2.85"/><circle cx="700.6" cy="297.1" r="2.85"/><circle cx="720.3" cy="301.0" r="2.85"/><circle cx="697.7" cy="306.7" r="2.85"/><circle cx="698.4" cy="295.9" r="2.85"/><circle cx="707.7" cy="306.6" r="2.85"/><circle cx="712.7" cy="309.9" r="2.85"/><circle cx="707.2" cy="292.3" r="2.85"/><circle cx="715.2" cy="291.9" r="2.85"/><circle cx="708.1" cy="301.4" r="2.85"/><circle cx="713.8" cy="310.1" r="2.85"/><circle cx="701.6" cy="308.3" r="2.85"/><circle cx="714.3" cy="303.4" r="2.85"/><circle cx="698.8" cy="315.5" r="2.85"/><circle cx="711.7" cy="292.1" r="2.85"/><circle cx="701.5" cy="317.6" r="2.85"/><circle cx="701.2" cy="301.2" r="2.85"/><circle cx="717.0" cy="313.1" r="2.85"/><circle cx="712.7" cy="310.9" r="2.85"/><circle cx="695.9" cy="293.0" r="2.85"/><circle cx="722.3" cy="312.6" r="2.85"/><circle cx="695.9" cy="291.7" r="2.85"/><circle cx="701.6" cy="316.1" r="2.85"/><circle cx="701.0" cy="308.9" r="2.85"/><circle cx="721.0" cy="308.0" r="2.85"/><circle cx="720.7" cy="297.7" r="2.85"/><circle cx="699.1" cy="290.9" r="2.85"/><circle cx="703.0" cy="272.8" r="2.85"/><circle cx="709.8" cy="270.4" r="2.85"/><circle cx="712.0" cy="277.2" r="2.85"/><circle cx="717.2" cy="275.0" r="2.85"/><circle cx="694.8" cy="279.4" r="2.85"/><circle cx="700.0" cy="278.8" r="2.85"/><circle cx="719.4" cy="279.4" r="2.85"/><circle cx="707.4" cy="282.4" r="2.85"/><circle cx="715.0" cy="282.4" r="2.85"/><circle cx="700.0" cy="286.2" r="2.85"/><circle cx="722.4" cy="287.0" r="2.85"/><circle cx="704.4" cy="284.0" r="2.85"/><circle cx="695.4" cy="285.4" r="2.85"/><circle cx="712.0" cy="287.0" r="2.85"/><circle cx="719.4" cy="284.8" r="2.85"/><circle cx="694.8" cy="321.4" r="2.85"/><circle cx="721.8" cy="323.0" r="2.85"/><circle cx="697.4" cy="345.6" r="2.85"/><circle cx="708.4" cy="344.0" r="2.85"/><circle cx="718.4" cy="345.6" r="2.85"/><circle cx="694.4" cy="352.4" r="2.85"/><circle cx="695.6" cy="352.4" r="2.85"/><circle cx="707.4" cy="357.4" r="2.85"/><circle cx="720.4" cy="350.4" r="2.85"/><circle cx="709.4" cy="365.4" r="2.85"/><circle cx="698.4" cy="368.4" r="2.85"/><circle cx="718.4" cy="367.4" r="2.85"/><circle cx="644.4" cy="371.4" r="2.85"/><circle cx="648.4" cy="378.4" r="2.85"/><circle cx="664.4" cy="381.4" r="2.85"/><circle cx="723.4" cy="386.4" r="2.85"/><circle cx="698.4" cy="392.4" r="2.85"/><circle cx="645.4" cy="393.4" r="2.85"/><circle cx="709.4" cy="398.4" r="2.85"/><circle cx="713.4" cy="402.4" r="2.85"/><circle cx="653.4" cy="401.4" r="2.85"/><circle cx="671.4" cy="401.4" r="2.85"/><circle cx="700.4" cy="410.4" r="2.85"/><circle cx="720.4" cy="415.4" r="2.85"/><circle cx="695.4" cy="422.4" r="2.85"/><circle cx="711.4" cy="427.4" r="2.85"/><circle cx="682.4" cy="434.4" r="2.85"/><circle cx="722.4" cy="435.4" r="2.85"/><circle cx="706.4" cy="437.4" r="2.85"/><circle cx="706.4" cy="443.0" r="2.85"/><circle cx="697.4" cy="444.0" r="2.85"/><circle cx="756.4" cy="272.0" r="2.85"/><circle cx="756.4" cy="314.4" r="2.85"/><circle cx="755.4" cy="321.4" r="2.85"/><circle cx="757.4" cy="325.6" r="2.85"/><circle cx="764.4" cy="277.4" r="2.85"/><circle cx="764.4" cy="281.4" r="2.85"/><circle cx="771.4" cy="289.0" r="2.85"/><circle cx="764.4" cy="293.4" r="2.85"/><circle cx="763.4" cy="298.4" r="2.85"/><circle cx="764.4" cy="304.4" r="2.85"/><circle cx="763.4" cy="312.0" r="2.85"/><circle cx="771.4" cy="306.0" r="2.85"/><circle cx="771.4" cy="310.4" r="2.85"/><circle cx="772.4" cy="317.0" r="2.85"/><circle cx="771.4" cy="324.4" r="2.85"/><circle cx="794.4" cy="286.4" r="2.85"/><circle cx="790.4" cy="339.0" r="2.85"/><circle cx="744.4" cy="339.4" r="2.85"/><circle cx="741.8" cy="271.0" r="2.85"/><circle cx="741.0" cy="273.1" r="2.85"/><circle cx="742.3" cy="277.3" r="2.85"/><circle cx="741.7" cy="280.7" r="2.85"/><circle cx="740.4" cy="282.9" r="2.85"/><circle cx="741.1" cy="286.4" r="2.85"/><circle cx="742.0" cy="288.2" r="2.85"/><circle cx="742.0" cy="292.2" r="2.85"/><circle cx="742.4" cy="295.2" r="2.85"/><circle cx="743.1" cy="296.3" r="2.85"/><circle cx="743.6" cy="299.1" r="2.85"/><circle cx="741.1" cy="302.6" r="2.85"/><circle cx="741.4" cy="306.7" r="2.85"/><circle cx="741.5" cy="308.3" r="2.85"/><circle cx="740.5" cy="311.7" r="2.85"/><circle cx="740.9" cy="313.9" r="2.85"/><circle cx="740.4" cy="317.9" r="2.85"/><circle cx="742.3" cy="320.0" r="2.85"/><circle cx="754.4" cy="283.0" r="2.85"/><circle cx="755.1" cy="284.8" r="2.85"/><circle cx="754.1" cy="287.1" r="2.85"/><circle cx="754.1" cy="288.3" r="2.85"/><circle cx="754.2" cy="291.3" r="2.85"/><circle cx="755.1" cy="291.9" r="2.85"/><circle cx="755.9" cy="294.5" r="2.85"/><circle cx="754.4" cy="295.6" r="2.85"/><circle cx="755.2" cy="297.6" r="2.85"/><circle cx="754.9" cy="300.0" r="2.85"/><circle cx="792.0" cy="293.0" r="2.85"/><circle cx="793.0" cy="295.1" r="2.85"/><circle cx="794.2" cy="296.7" r="2.85"/><circle cx="794.2" cy="297.6" r="2.85"/><circle cx="790.6" cy="299.4" r="2.85"/><circle cx="790.8" cy="301.7" r="2.85"/><circle cx="791.6" cy="302.1" r="2.85"/><circle cx="794.3" cy="304.1" r="2.85"/><circle cx="792.1" cy="306.5" r="2.85"/><circle cx="793.8" cy="307.7" r="2.85"/><circle cx="793.0" cy="309.6" r="2.85"/><circle cx="790.9" cy="310.9" r="2.85"/><circle cx="793.0" cy="312.2" r="2.85"/><circle cx="793.6" cy="314.2" r="2.85"/><circle cx="794.2" cy="316.3" r="2.85"/><circle cx="790.7" cy="317.0" r="2.85"/><circle cx="792.7" cy="319.5" r="2.85"/><circle cx="793.2" cy="320.2" r="2.85"/><circle cx="791.3" cy="321.9" r="2.85"/><circle cx="792.5" cy="323.7" r="2.85"/><circle cx="790.7" cy="325.7" r="2.85"/><circle cx="792.9" cy="327.4" r="2.85"/><circle cx="793.1" cy="328.7" r="2.85"/><circle cx="790.4" cy="330.8" r="2.85"/><circle cx="792.3" cy="332.0" r="2.85"/><circle cx="741.4" cy="347.4" r="2.85"/><circle cx="743.4" cy="358.4" r="2.85"/><circle cx="739.4" cy="380.4" r="2.85"/><circle cx="741.4" cy="379.4" r="2.85"/><circle cx="764.4" cy="371.4" r="2.85"/><circle cx="771.4" cy="392.4" r="2.85"/><circle cx="772.4" cy="390.4" r="2.85"/><circle cx="763.4" cy="411.4" r="2.85"/><circle cx="742.4" cy="428.4" r="2.85"/><circle cx="754.4" cy="430.4" r="2.85"/><circle cx="795.4" cy="443.0" r="2.85"/><circle cx="739.7" cy="359.4" r="2.85"/><circle cx="739.6" cy="361.3" r="2.85"/><circle cx="740.1" cy="362.2" r="2.85"/><circle cx="739.0" cy="364.6" r="2.85"/><circle cx="740.1" cy="365.8" r="2.85"/><circle cx="739.3" cy="367.1" r="2.85"/><circle cx="740.0" cy="369.7" r="2.85"/><circle cx="739.8" cy="370.4" r="2.85"/><circle cx="739.7" cy="372.2" r="2.85"/><circle cx="739.8" cy="374.0" r="2.85"/><circle cx="851.4" cy="280.4" r="2.85"/><circle cx="856.4" cy="283.0" r="2.85"/><circle cx="857.2" cy="294.9" r="2.85"/><circle cx="858.3" cy="326.6" r="2.85"/><circle cx="855.0" cy="316.9" r="2.85"/><circle cx="852.2" cy="301.2" r="2.85"/><circle cx="854.9" cy="312.6" r="2.85"/><circle cx="855.7" cy="292.4" r="2.85"/><circle cx="848.1" cy="304.3" r="2.85"/><circle cx="859.8" cy="323.9" r="2.85"/><circle cx="851.9" cy="300.3" r="2.85"/><circle cx="856.5" cy="296.4" r="2.85"/><circle cx="857.9" cy="331.4" r="2.85"/><circle cx="851.3" cy="316.1" r="2.85"/><circle cx="859.8" cy="324.0" r="2.85"/><circle cx="859.7" cy="322.1" r="2.85"/><circle cx="852.5" cy="328.2" r="2.85"/><circle cx="863.2" cy="290.5" r="2.85"/><circle cx="863.5" cy="309.2" r="2.85"/><circle cx="849.4" cy="291.3" r="2.85"/><circle cx="861.1" cy="320.5" r="2.85"/><circle cx="850.3" cy="310.1" r="2.85"/><circle cx="858.5" cy="335.9" r="2.85"/><circle cx="853.5" cy="324.8" r="2.85"/><circle cx="852.0" cy="297.5" r="2.85"/><circle cx="850.6" cy="307.7" r="2.85"/><circle cx="858.1" cy="302.6" r="2.85"/><circle cx="850.7" cy="298.5" r="2.85"/><circle cx="849.4" cy="297.3" r="2.85"/><circle cx="853.2" cy="312.2" r="2.85"/><circle cx="851.0" cy="311.0" r="2.85"/><circle cx="855.2" cy="334.7" r="2.85"/><circle cx="856.0" cy="333.4" r="2.85"/><circle cx="855.7" cy="297.5" r="2.85"/><circle cx="857.7" cy="294.9" r="2.85"/><circle cx="850.8" cy="291.5" r="2.85"/><circle cx="859.5" cy="334.4" r="2.85"/><circle cx="854.6" cy="305.0" r="2.85"/><circle cx="855.0" cy="304.9" r="2.85"/><circle cx="859.3" cy="306.8" r="2.85"/><circle cx="850.5" cy="329.5" r="2.85"/><circle cx="857.4" cy="288.3" r="2.85"/><circle cx="861.9" cy="323.0" r="2.85"/><circle cx="853.8" cy="318.2" r="2.85"/><circle cx="863.1" cy="307.3" r="2.85"/><circle cx="855.1" cy="302.3" r="2.85"/><circle cx="857.1" cy="319.8" r="2.85"/><circle cx="860.1" cy="333.6" r="2.85"/><circle cx="850.4" cy="305.6" r="2.85"/><circle cx="862.0" cy="326.0" r="2.85"/><circle cx="857.7" cy="320.5" r="2.85"/><circle cx="853.6" cy="333.4" r="2.85"/><circle cx="857.0" cy="307.3" r="2.85"/><circle cx="851.0" cy="293.5" r="2.85"/><circle cx="862.7" cy="326.4" r="2.85"/><circle cx="848.4" cy="303.5" r="2.85"/><circle cx="855.9" cy="311.8" r="2.85"/><circle cx="854.0" cy="331.0" r="2.85"/><circle cx="853.7" cy="313.5" r="2.85"/><circle cx="863.2" cy="318.7" r="2.85"/><circle cx="855.8" cy="304.0" r="2.85"/><circle cx="854.3" cy="317.2" r="2.85"/><circle cx="860.9" cy="300.5" r="2.85"/><circle cx="854.1" cy="306.6" r="2.85"/><circle cx="854.0" cy="331.8" r="2.85"/><circle cx="856.8" cy="301.2" r="2.85"/><circle cx="853.5" cy="327.4" r="2.85"/><circle cx="850.6" cy="321.1" r="2.85"/><circle cx="848.4" cy="297.3" r="2.85"/><circle cx="849.0" cy="326.7" r="2.85"/><circle cx="850.4" cy="298.9" r="2.85"/><circle cx="848.9" cy="300.7" r="2.85"/><circle cx="860.0" cy="322.6" r="2.85"/><circle cx="862.9" cy="333.5" r="2.85"/><circle cx="857.0" cy="332.3" r="2.85"/><circle cx="849.5" cy="332.4" r="2.85"/><circle cx="855.1" cy="297.3" r="2.85"/><circle cx="860.3" cy="329.2" r="2.85"/><circle cx="854.3" cy="292.5" r="2.85"/><circle cx="862.3" cy="324.2" r="2.85"/><circle cx="857.8" cy="334.9" r="2.85"/><circle cx="848.6" cy="290.7" r="2.85"/><circle cx="850.0" cy="289.0" r="2.85"/><circle cx="859.6" cy="318.2" r="2.85"/><circle cx="849.8" cy="295.8" r="2.85"/><circle cx="851.0" cy="317.2" r="2.85"/><circle cx="859.0" cy="334.5" r="2.85"/><circle cx="853.9" cy="335.0" r="2.85"/><circle cx="855.1" cy="306.8" r="2.85"/><circle cx="852.2" cy="299.2" r="2.85"/><circle cx="864.0" cy="335.8" r="2.85"/><circle cx="859.6" cy="296.4" r="2.85"/><circle cx="851.0" cy="295.3" r="2.85"/><circle cx="853.8" cy="323.4" r="2.85"/><circle cx="849.0" cy="313.5" r="2.85"/><circle cx="859.2" cy="289.6" r="2.85"/><circle cx="847.4" cy="346.0" r="2.85"/><circle cx="853.4" cy="344.4" r="2.85"/><circle cx="852.4" cy="359.4" r="2.85"/><circle cx="854.4" cy="373.4" r="2.85"/><circle cx="863.4" cy="385.4" r="2.85"/><circle cx="850.4" cy="390.4" r="2.85"/><circle cx="864.4" cy="406.4" r="2.85"/><circle cx="850.4" cy="418.4" r="2.85"/><circle cx="852.4" cy="424.6" r="2.85"/></g>
<g fill="#0000ff"><circle cx="283.9" cy="180.0" r="2.85"/><circle cx="280.5" cy="180.7" r="2.85"/><circle cx="282.2" cy="181.5" r="2.85"/><circle cx="284.0" cy="182.8" r="2.85"/><circle cx="283.0" cy="183.7" r="2.85"/><circle cx="282.3" cy="184.6" r="2.85"/><circle cx="280.7" cy="185.4" r="2.85"/><circle cx="281.6" cy="186.4" r="2.85"/><circle cx="283.3" cy="187.4" r="2.85"/><circle cx="281.3" cy="187.9" r="2.85"/><circle cx="283.4" cy="188.7" r="2.85"/><circle cx="281.4" cy="189.9" r="2.85"/><circle cx="283.1" cy="190.4" r="2.85"/><circle cx="282.7" cy="191.6" r="2.85"/><circle cx="283.6" cy="192.2" r="2.85"/><circle cx="282.5" cy="193.0" r="2.85"/><circle cx="285.3" cy="194.2" r="2.85"/><circle cx="285.1" cy="195.2" r="2.85"/><circle cx="283.5" cy="196.0" r="2.85"/><circle cx="286.9" cy="185.0" r="2.85"/><circle cx="291.1" cy="185.7" r="2.85"/><circle cx="287.5" cy="186.9" r="2.85"/><circle cx="288.6" cy="187.2" r="2.85"/><circle cx="288.3" cy="188.5" r="2.85"/><circle cx="289.8" cy="189.1" r="2.85"/><circle cx="287.5" cy="190.4" r="2.85"/><circle cx="288.1" cy="190.7" r="2.85"/><circle cx="290.2" cy="191.8" r="2.85"/><circle cx="290.9" cy="192.5" r="2.85"/><circle cx="289.4" cy="193.7" r="2.85"/><circle cx="292.1" cy="194.2" r="2.85"/><circle cx="291.3" cy="195.2" r="2.85"/><circle cx="288.1" cy="196.0" r="2.85"/><circle cx="288.6" cy="197.2" r="2.85"/><circle cx="289.8" cy="198.2" r="2.85"/><circle cx="288.4" cy="198.5" r="2.85"/><circle cx="290.9" cy="199.5" r="2.85"/><circle cx="288.2" cy="200.7" r="2.85"/><circle cx="288.6" cy="201.2" r="2.85"/><circle cx="288.3" cy="202.5" r="2.85"/><circle cx="287.9" cy="203.0" r="2.85"/><circle cx="285.6" cy="206.4" r="2.85"/><circle cx="291.6" cy="206.4" r="2.85"/><circle cx="281.0" cy="179.4" r="2.85"/><circle cx="286.6" cy="179.4" r="2.85"/><circle cx="283.4" cy="218.4" r="2.85"/><circle cx="280.4" cy="327.4" r="2.85"/><circle cx="282.4" cy="328.4" r="2.85"/><circle cx="292.4" cy="334.0" r="2.85"/><circle cx="348.4" cy="173.0" r="2.85"/><circle cx="347.1" cy="173.8" r="2.85"/><circle cx="346.4" cy="175.0" r="2.85"/><circle cx="347.4" cy="175.9" r="2.85"/><circle cx="347.9" cy="177.3" r="2.85"/><circle cx="349.9" cy="178.1" r="2.85"/><circle cx="349.7" cy="179.3" r="2.85"/><circle cx="347.3" cy="180.4" r="2.85"/><circle cx="348.7" cy="181.3" r="2.85"/><circle cx="348.6" cy="182.6" r="2.85"/><circle cx="349.4" cy="183.6" r="2.85"/><circle cx="350.6" cy="184.2" r="2.85"/><circle cx="350.6" cy="185.2" r="2.85"/><circle cx="348.1" cy="186.3" r="2.85"/><circle cx="350.7" cy="187.3" r="2.85"/><circle cx="348.6" cy="189.0" r="2.85"/><circle cx="350.2" cy="189.7" r="2.85"/><circle cx="349.5" cy="191.0" r="2.85"/><circle cx="350.1" cy="191.7" r="2.85"/><circle cx="350.0" cy="193.1" r="2.85"/><circle cx="350.3" cy="194.2" r="2.85"/><circle cx="351.7" cy="194.6" r="2.85"/><circle cx="350.0" cy="195.9" r="2.85"/><circle cx="350.1" cy="197.1" r="2.85"/><circle cx="352.5" cy="198.0" r="2.85"/><circle cx="350.4" cy="204.4" r="2.85"/><circle cx="346.6" cy="172.4" r="2.85"/><circle cx="350.0" cy="173.6" r="2.85"/><circle cx="360.9" cy="180.0" r="2.85"/><circle cx="360.8" cy="181.2" r="2.85"/><circle cx="359.8" cy="181.9" r="2.85"/><circle cx="362.3" cy="182.9" r="2.85"/><circle cx="362.4" cy="183.7" r="2.85"/><circle cx="359.3" cy="184.6" r="2.85"/><circle cx="362.8" cy="185.8" r="2.85"/><circle cx="360.5" cy="187.0" r="2.85"/><circle cx="360.0" cy="188.3" r="2.85"/><circle cx="361.5" cy="189.0" r="2.85"/><circle cx="362.7" cy="190.2" r="2.85"/><circle cx="360.9" cy="191.1" r="2.85"/><circle cx="360.1" cy="191.9" r="2.85"/><circle cx="362.7" cy="193.3" r="2.85"/><circle cx="360.5" cy="194.2" r="2.85"/><circle cx="363.5" cy="195.0" r="2.85"/><circle cx="360.6" cy="196.1" r="2.85"/><circle cx="364.4" cy="197.0" r="2.85"/><circle cx="361.2" cy="197.8" r="2.85"/><circle cx="363.8" cy="198.8" r="2.85"/><circle cx="361.3" cy="200.3" r="2.85"/><circle cx="361.9" cy="200.7" r="2.85"/><circle cx="363.3" cy="201.9" r="2.85"/><circle cx="362.5" cy="202.7" r="2.85"/><circle cx="365.8" cy="203.8" r="2.85"/><circle cx="361.8" cy="205.2" r="2.85"/><circle cx="362.0" cy="206.4" r="2.85"/><circle cx="363.4" cy="207.0" r="2.85"/><circle cx="359.4" cy="220.2" r="2.85"/><circle cx="346.4" cy="235.4" r="2.85"/><circle cx="352.4" cy="407.4" r="2.85"/><circle cx="365.4" cy="437.4" r="2.85"/><circle cx="497.7" cy="173.0" r="2.85"/><circle cx="497.5" cy="174.4" r="2.85"/><circle cx="498.4" cy="175.5" r="2.85"/><circle cx="497.8" cy="175.8" r="2.85"/><circle cx="496.8" cy="177.1" r="2.85"/><circle cx="497.1" cy="178.7" r="2.85"/><circle cx="497.9" cy="179.4" r="2.85"/><circle cx="497.9" cy="180.8" r="2.85"/><circle cx="497.5" cy="181.4" r="2.85"/><circle cx="498.5" cy="182.2" r="2.85"/><circle cx="497.0" cy="184.0" r="2.85"/><circle cx="497.1" cy="184.2" r="2.85"/><circle cx="498.4" cy="185.5" r="2.85"/><circle cx="498.3" cy="187.1" r="2.85"/><circle cx="498.2" cy="187.4" r="2.85"/><circle cx="497.9" cy="189.0" r="2.85"/><circle cx="496.7" cy="190.3" r="2.85"/><circle cx="498.1" cy="190.6" r="2.85"/><circle cx="498.5" cy="192.0" r="2.85"/><circle cx="499.4" cy="333.0" r="2.85"/><circle cx="595.0" cy="323.6" r="2.85"/><circle cx="596.7" cy="316.9" r="2.85"/><circle cx="595.5" cy="321.1" r="2.85"/><circle cx="597.0" cy="313.2" r="2.85"/><circle cx="596.6" cy="315.9" r="2.85"/><circle cx="595.7" cy="314.3" r="2.85"/><circle cx="594.9" cy="315.5" r="2.85"/><circle cx="594.9" cy="311.6" r="2.85"/><circle cx="593.9" cy="318.4" r="2.85"/><circle cx="593.1" cy="313.6" r="2.85"/><circle cx="596.8" cy="314.8" r="2.85"/><circle cx="594.6" cy="314.4" r="2.85"/><circle cx="597.5" cy="312.5" r="2.85"/><circle cx="596.4" cy="321.9" r="2.85"/><circle cx="593.9" cy="316.6" r="2.85"/><circle cx="597.2" cy="318.9" r="2.85"/><circle cx="594.9" cy="311.9" r="2.85"/><circle cx="595.3" cy="315.9" r="2.85"/><circle cx="596.8" cy="315.0" r="2.85"/><circle cx="595.1" cy="319.3" r="2.85"/><circle cx="593.4" cy="388.4" r="2.85"/><circle cx="597.4" cy="393.4" r="2.85"/><circle cx="644.4" cy="181.0" r="2.85"/><circle cx="645.6" cy="181.4" r="2.85"/><circle cx="658.4" cy="180.0" r="2.85"/><circle cx="645.8" cy="188.0" r="2.85"/><circle cx="645.6" cy="190.8" r="2.85"/><circle cx="645.0" cy="191.8" r="2.85"/><circle cx="644.6" cy="194.6" r="2.85"/><circle cx="644.9" cy="197.7" r="2.85"/><circle cx="644.9" cy="199.0" r="2.85"/><circle cx="654.2" cy="187.0" r="2.85"/><circle cx="656.7" cy="187.9" r="2.85"/><circle cx="655.4" cy="189.2" r="2.85"/><circle cx="653.6" cy="190.2" r="2.85"/><circle cx="657.3" cy="191.2" r="2.85"/><circle cx="657.5" cy="192.7" r="2.85"/><circle cx="654.8" cy="193.3" r="2.85"/><circle cx="656.4" cy="194.2" r="2.85"/><circle cx="656.3" cy="195.6" r="2.85"/><circle cx="657.0" cy="196.7" r="2.85"/><circle cx="658.1" cy="197.7" r="2.85"/><circle cx="658.8" cy="198.7" r="2.85"/><circle cx="655.2" cy="200.0" r="2.85"/><circle cx="657.5" cy="200.9" r="2.85"/><circle cx="657.8" cy="202.1" r="2.85"/><circle cx="656.7" cy="203.1" r="2.85"/><circle cx="657.1" cy="204.6" r="2.85"/><circle cx="659.5" cy="205.6" r="2.85"/><circle cx="658.1" cy="206.6" r="2.85"/><circle cx="658.3" cy="208.0" r="2.85"/><circle cx="656.8" cy="209.0" r="2.85"/><circle cx="659.5" cy="209.7" r="2.85"/><circle cx="660.6" cy="210.4" r="2.85"/><circle cx="659.6" cy="211.5" r="2.85"/><circle cx="658.0" cy="213.0" r="2.85"/><circle cx="659.4" cy="250.0" r="2.85"/><circle cx="654.4" cy="252.0" r="2.85"/><circle cx="644.4" cy="317.4" r="2.85"/><circle cx="645.4" cy="335.4" r="2.85"/><circle cx="754.4" cy="167.4" r="2.85"/><circle cx="757.4" cy="236.4" r="2.85"/><circle cx="794.4" cy="217.6" r="2.85"/><circle cx="755.6" cy="174.0" r="2.85"/><circle cx="756.2" cy="174.7" r="2.85"/><circle cx="754.5" cy="176.3" r="2.85"/><circle cx="754.5" cy="177.5" r="2.85"/><circle cx="754.4" cy="178.3" r="2.85"/><circle cx="756.4" cy="179.6" r="2.85"/><circle cx="754.4" cy="180.8" r="2.85"/><circle cx="755.8" cy="181.8" r="2.85"/><circle cx="755.8" cy="182.8" r="2.85"/><circle cx="756.1" cy="183.7" r="2.85"/><circle cx="754.9" cy="184.9" r="2.85"/><circle cx="756.1" cy="185.4" r="2.85"/><circle cx="755.9" cy="186.6" r="2.85"/><circle cx="756.8" cy="187.4" r="2.85"/><circle cx="757.1" cy="188.5" r="2.85"/><circle cx="757.1" cy="190.0" r="2.85"/><circle cx="791.4" cy="194.0" r="2.85"/><circle cx="792.5" cy="194.6" r="2.85"/><circle cx="791.5" cy="195.5" r="2.85"/><circle cx="794.5" cy="196.3" r="2.85"/><circle cx="791.5" cy="197.5" r="2.85"/><circle cx="793.5" cy="198.1" r="2.85"/><circle cx="794.4" cy="199.4" r="2.85"/><circle cx="792.0" cy="199.8" r="2.85"/><circle cx="794.2" cy="200.8" r="2.85"/><circle cx="793.5" cy="201.6" r="2.85"/><circle cx="794.6" cy="203.0" r="2.85"/><circle cx="791.0" cy="203.2" r="2.85"/><circle cx="794.4" cy="204.1" r="2.85"/><circle cx="793.7" cy="205.3" r="2.85"/><circle cx="793.3" cy="206.1" r="2.85"/><circle cx="794.7" cy="207.1" r="2.85"/><circle cx="795.4" cy="208.2" r="2.85"/><circle cx="796.4" cy="208.9" r="2.85"/><circle cx="796.2" cy="209.6" r="2.85"/><circle cx="789.6" cy="274.4" r="2.85"/><circle cx="754.4" cy="411.4" r="2.85"/><circle cx="795.4" cy="439.0" r="2.85"/><circle cx="857.1" cy="192.4" r="2.85"/><circle cx="853.3" cy="192.9" r="2.85"/><circle cx="855.7" cy="193.9" r="2.85"/><circle cx="856.9" cy="194.6" r="2.85"/><circle cx="855.0" cy="195.4" r="2.85"/><circle cx="857.4" cy="196.3" r="2.85"/><circle cx="855.6" cy="197.3" r="2.85"/><circle cx="858.8" cy="197.8" r="2.85"/><circle cx="857.2" cy="198.9" r="2.85"/><circle cx="856.4" cy="199.2" r="2.85"/><circle cx="855.5" cy="200.3" r="2.85"/><circle cx="859.5" cy="200.7" r="2.85"/><circle cx="855.0" cy="202.0" r="2.85"/><circle cx="857.8" cy="202.5" r="2.85"/><circle cx="854.8" cy="203.2" r="2.85"/><circle cx="858.9" cy="204.3" r="2.85"/><circle cx="855.2" cy="204.9" r="2.85"/><circle cx="855.3" cy="205.6" r="2.85"/><circle cx="855.2" cy="206.8" r="2.85"/><circle cx="859.3" cy="207.1" r="2.85"/><circle cx="855.7" cy="207.8" r="2.85"/><circle cx="856.1" cy="208.6" r="2.85"/><circle cx="860.1" cy="209.6" r="2.85"/><circle cx="856.4" cy="210.2" r="2.85"/><circle cx="858.0" cy="211.3" r="2.85"/><circle cx="856.4" cy="211.9" r="2.85"/><circle cx="861.3" cy="212.6" r="2.85"/><circle cx="857.4" cy="213.3" r="2.85"/><circle cx="861.1" cy="214.5" r="2.85"/><circle cx="858.9" cy="215.3" r="2.85"/><circle cx="859.8" cy="216.2" r="2.85"/><circle cx="859.0" cy="216.5" r="2.85"/><circle cx="860.7" cy="217.6" r="2.85"/><circle cx="857.7" cy="218.0" r="2.85"/><circle cx="862.2" cy="219.0" r="2.85"/><circle cx="854.9" cy="203.0" r="2.85"/><circle cx="856.7" cy="204.3" r="2.85"/><circle cx="856.0" cy="204.8" r="2.85"/><circle cx="861.9" cy="206.1" r="2.85"/><circle cx="860.8" cy="206.8" r="2.85"/><circle cx="855.4" cy="208.0" r="2.85"/><circle cx="856.7" cy="209.4" r="2.85"/><circle cx="857.3" cy="209.9" r="2.85"/><circle cx="860.9" cy="211.5" r="2.85"/><circle cx="854.1" cy="212.3" r="2.85"/><circle cx="858.9" cy="213.5" r="2.85"/><circle cx="861.6" cy="214.6" r="2.85"/><circle cx="860.8" cy="215.2" r="2.85"/><circle cx="856.1" cy="216.6" r="2.85"/><circle cx="857.0" cy="217.3" r="2.85"/><circle cx="856.8" cy="218.4" r="2.85"/><circle cx="854.4" cy="316.4" r="2.85"/></g>
<g fill="#ff0000"><circle cx="167.4" cy="218.4" r="2.85"/><circle cx="168.6" cy="226.0" r="2.85"/><circle cx="170.1" cy="226.4" r="2.85"/><circle cx="169.6" cy="227.0" r="2.85"/><circle cx="167.5" cy="227.7" r="2.85"/><circle cx="167.4" cy="228.4" r="2.85"/><circle cx="167.5" cy="228.9" r="2.85"/><circle cx="169.1" cy="229.3" r="2.85"/><circle cx="167.7" cy="230.3" r="2.85"/><circle cx="170.0" cy="230.6" r="2.85"/><circle cx="169.7" cy="231.5" r="2.85"/><circle cx="171.5" cy="231.9" r="2.85"/><circle cx="171.0" cy="232.3" r="2.85"/><circle cx="167.8" cy="233.0" r="2.85"/><circle cx="168.6" cy="233.5" r="2.85"/><circle cx="168.0" cy="234.4" r="2.85"/><circle cx="170.0" cy="234.9" r="2.85"/><circle cx="169.6" cy="235.4" r="2.85"/><circle cx="167.5" cy="235.8" r="2.85"/><circle cx="170.2" cy="236.5" r="2.85"/><circle cx="168.6" cy="237.2" r="2.85"/><circle cx="169.2" cy="237.8" r="2.85"/><circle cx="168.5" cy="238.4" r="2.85"/><circle cx="186.0" cy="252.0" r="2.85"/><circle cx="187.8" cy="253.6" r="2.85"/><circle cx="186.1" cy="254.6" r="2.85"/><circle cx="186.0" cy="255.8" r="2.85"/><circle cx="187.3" cy="257.0" r="2.85"/><circle cx="187.6" cy="257.7" r="2.85"/><circle cx="186.7" cy="259.4" r="2.85"/><circle cx="187.5" cy="259.8" r="2.85"/><circle cx="186.2" cy="261.1" r="2.85"/><circle cx="186.0" cy="262.2" r="2.85"/><circle cx="186.8" cy="263.4" r="2.85"/><circle cx="188.2" cy="264.7" r="2.85"/><circle cx="187.4" cy="265.8" r="2.85"/><circle cx="186.9" cy="266.9" r="2.85"/><circle cx="186.6" cy="267.9" r="2.85"/><circle cx="188.1" cy="269.0" r="2.85"/><circle cx="186.4" cy="270.7" r="2.85"/><circle cx="188.8" cy="271.8" r="2.85"/><circle cx="186.1" cy="273.0" r="2.85"/><circle cx="194.3" cy="260.0" r="2.85"/><circle cx="193.0" cy="260.9" r="2.85"/><circle cx="192.6" cy="262.1" r="2.85"/><circle cx="193.8" cy="262.8" r="2.85"/><circle cx="192.4" cy="264.1" r="2.85"/><circle cx="193.8" cy="265.0" r="2.85"/><circle cx="192.6" cy="265.8" r="2.85"/><circle cx="191.2" cy="266.5" r="2.85"/><circle cx="191.3" cy="267.3" r="2.85"/><circle cx="192.0" cy="268.7" r="2.85"/><circle cx="191.3" cy="269.2" r="2.85"/><circle cx="194.5" cy="270.6" r="2.85"/><circle cx="192.1" cy="271.5" r="2.85"/><circle cx="192.2" cy="272.1" r="2.85"/><circle cx="191.6" cy="273.2" r="2.85"/><circle cx="192.1" cy="274.1" r="2.85"/><circle cx="194.9" cy="275.5" r="2.85"/><circle cx="192.0" cy="276.1" r="2.85"/><circle cx="194.9" cy="277.0" r="2.85"/><circle cx="198.4" cy="255.0" r="2.85"/><circle cx="197.4" cy="256.1" r="2.85"/><circle cx="198.9" cy="257.3" r="2.85"/><circle cx="198.0" cy="258.6" r="2.85"/><circle cx="197.4" cy="259.8" r="2.85"/><circle cx="197.7" cy="260.7" r="2.85"/><circle cx="197.5" cy="262.0" r="2.85"/><circle cx="198.4" cy="262.9" r="2.85"/><circle cx="199.3" cy="264.3" r="2.85"/><circle cx="199.8" cy="265.7" r="2.85"/><circle cx="199.7" cy="267.1" r="2.85"/><circle cx="198.6" cy="268.5" r="2.85"/><circle cx="200.6" cy="269.1" r="2.85"/><circle cx="199.7" cy="270.1" r="2.85"/><circle cx="197.5" cy="271.8" r="2.85"/><circle cx="200.3" cy="273.2" r="2.85"/><circle cx="199.7" cy="274.2" r="2.85"/><circle cx="197.8" cy="275.5" r="2.85"/><circle cx="199.0" cy="276.5" r="2.85"/><circle cx="200.0" cy="277.9" r="2.85"/><circle cx="199.3" cy="279.1" r="2.85"/><circle cx="200.3" cy="280.0" r="2.85"/><circle cx="195.7" cy="270.8" r="2.85"/><circle cx="189.5" cy="259.5" r="2.85"/><circle cx="188.2" cy="265.1" r="2.85"/><circle cx="187.8" cy="273.2" r="2.85"/><circle cx="194.0" cy="269.7" r="2.85"/><circle cx="194.9" cy="270.6" r="2.85"/><circle cx="193.1" cy="259.1" r="2.85"/><circle cx="197.2" cy="271.7" r="2.85"/><circle cx="193.2" cy="268.1" r="2.85"/><circle cx="195.4" cy="260.1" r="2.85"/><circle cx="196.4" cy="263.3" r="2.85"/><circle cx="187.4" cy="263.5" r="2.85"/><circle cx="196.3" cy="262.5" r="2.85"/><circle cx="196.5" cy="275.6" r="2.85"/><circle cx="193.1" cy="265.5" r="2.85"/><circle cx="192.9" cy="270.6" r="2.85"/><circle cx="196.8" cy="269.5" r="2.85"/><circle cx="195.1" cy="260.3" r="2.85"/><circle cx="188.4" cy="263.3" r="2.85"/><circle cx="196.5" cy="264.2" r="2.85"/><circle cx="194.1" cy="259.2" r="2.85"/><circle cx="187.2" cy="263.6" r="2.85"/><circle cx="195.5" cy="270.8" r="2.85"/><circle cx="195.6" cy="263.9" r="2.85"/><circle cx="193.4" cy="266.9" r="2.85"/><circle cx="192.7" cy="261.0" r="2.85"/><circle cx="198.6" cy="262.4" r="2.85"/><circle cx="199.7" cy="274.9" r="2.85"/><circle cx="186.6" cy="266.8" r="2.85"/><circle cx="197.6" cy="275.5" r="2.85"/><circle cx="192.5" cy="263.6" r="2.85"/><circle cx="189.3" cy="275.1" r="2.85"/><circle cx="189.3" cy="268.9" r="2.85"/><circle cx="188.3" cy="267.9" r="2.85"/><circle cx="199.4" cy="261.3" r="2.85"/><circle cx="197.6" cy="267.6" r="2.85"/><circle cx="198.5" cy="271.0" r="2.85"/><circle cx="189.5" cy="274.3" r="2.85"/><circle cx="193.0" cy="259.4" r="2.85"/><circle cx="186.4" cy="267.4" r="2.85"/><circle cx="192.5" cy="264.1" r="2.85"/><circle cx="188.3" cy="264.8" r="2.85"/><circle cx="190.7" cy="273.3" r="2.85"/><circle cx="186.4" cy="271.8" r="2.85"/><circle cx="197.8" cy="261.0" r="2.85"/><circle cx="199.0" cy="271.1" r="2.85"/><circle cx="198.7" cy="263.9" r="2.85"/><circle cx="214.6" cy="250.0" r="2.85"/><circle cx="215.6" cy="251.3" r="2.85"/><circle cx="214.6" cy="252.9" r="2.85"/><circle cx="214.4" cy="254.1" r="2.85"/><circle cx="214.2" cy="255.0" r="2.85"/><circle cx="214.5" cy="257.3" r="2.85"/><circle cx="214.4" cy="258.8" r="2.85"/><circle cx="214.8" cy="259.4" r="2.85"/><circle cx="214.6" cy="260.7" r="2.85"/><circle cx="215.4" cy="263.0" r="2.85"/><circle cx="215.0" cy="264.2" r="2.85"/><circle cx="215.5" cy="265.7" r="2.85"/><circle cx="215.2" cy="266.7" r="2.85"/><circle cx="214.1" cy="268.0" r="2.85"/><circle cx="218.0" cy="249.0" r="2.85"/><circle cx="218.0" cy="250.3" r="2.85"/><circle cx="217.3" cy="251.9" r="2.85"/><circle cx="218.3" cy="252.7" r="2.85"/><circle cx="217.6" cy="254.1" r="2.85"/><circle cx="217.3" cy="255.7" r="2.85"/><circle cx="218.4" cy="257.6" r="2.85"/><circle cx="217.8" cy="258.4" r="2.85"/><circle cx="217.7" cy="259.9" r="2.85"/><circle cx="217.1" cy="261.3" r="2.85"/><circle cx="217.1" cy="262.5" r="2.85"/><circle cx="217.6" cy="264.7" r="2.85"/><circle cx="218.3" cy="265.3" r="2.85"/><circle cx="218.4" cy="267.0" r="2.85"/><circle cx="217.6" cy="248.0" r="2.85"/><circle cx="214.2" cy="279.2" r="2.85"/><circle cx="171.4" cy="334.0" r="2.85"/><circle cx="189.4" cy="336.4" r="2.85"/><circle cx="167.4" cy="355.0" r="2.85"/><circle cx="184.4" cy="350.4" r="2.85"/><circle cx="190.4" cy="398.4" r="2.85"/><circle cx="218.4" cy="395.0" r="2.85"/><circle cx="184.4" cy="438.4" r="2.85"/><circle cx="201.6" cy="443.0" r="2.85"/><circle cx="183.3" cy="427.3" r="2.85"/><circle cx="181.8" cy="427.9" r="2.85"/><circle cx="181.7" cy="426.9" r="2.85"/><circle cx="180.3" cy="426.6" r="2.85"/><circle cx="184.3" cy="425.7" r="2.85"/><circle cx="182.2" cy="428.5" r="2.85"/><circle cx="183.8" cy="426.2" r="2.85"/><circle cx="181.2" cy="426.4" r="2.85"/><circle cx="181.8" cy="427.5" r="2.85"/><circle cx="184.2" cy="429.8" r="2.85"/><circle cx="183.8" cy="425.1" r="2.85"/><circle cx="180.1" cy="429.0" r="2.85"/><circle cx="183.9" cy="427.7" r="2.85"/><circle cx="202.5" cy="425.0" r="2.85"/><circle cx="202.2" cy="426.0" r="2.85"/><circle cx="202.9" cy="428.9" r="2.85"/><circle cx="203.0" cy="430.0" r="2.85"/><circle cx="277.4" cy="228.0" r="2.85"/><circle cx="277.4" cy="231.0" r="2.85"/><circle cx="278.0" cy="242.0" r="2.85"/><circle cx="281.6" cy="243.0" r="2.85"/><circle cx="277.4" cy="244.0" r="2.85"/><circle cx="255.0" cy="270.0" r="2.85"/><circle cx="287.0" cy="273.0" r="2.85"/><circle cx="314.4" cy="277.2" r="2.85"/><circle cx="283.4" cy="282.4" r="2.85"/><circle cx="259.4" cy="324.4" r="2.85"/><circle cx="254.4" cy="337.4" r="2.85"/><circle cx="254.9" cy="251.0" r="2.85"/><circle cx="258.9" cy="251.7" r="2.85"/><circle cx="258.1" cy="252.9" r="2.85"/><circle cx="259.1" cy="253.8" r="2.85"/><circle cx="255.5" cy="254.1" r="2.85"/><circle cx="258.2" cy="255.3" r="2.85"/><circle cx="257.8" cy="255.6" r="2.85"/><circle cx="256.4" cy="256.6" r="2.85"/><circle cx="255.4" cy="257.4" r="2.85"/><circle cx="255.9" cy="258.0" r="2.85"/><circle cx="259.2" cy="259.0" r="2.85"/><circle cx="259.2" cy="259.7" r="2.85"/><circle cx="256.3" cy="260.5" r="2.85"/><circle cx="258.5" cy="261.7" r="2.85"/><circle cx="254.8" cy="262.3" r="2.85"/><circle cx="256.4" cy="263.1" r="2.85"/><circle cx="255.5" cy="264.2" r="2.85"/><circle cx="258.9" cy="264.7" r="2.85"/><circle cx="256.6" cy="265.3" r="2.85"/><circle cx="258.3" cy="266.6" r="2.85"/><circle cx="254.8" cy="266.9" r="2.85"/><circle cx="254.9" cy="268.0" r="2.85"/><circle cx="291.4" cy="255.9" r="2.85"/><circle cx="289.3" cy="268.1" r="2.85"/><circle cx="284.2" cy="256.2" r="2.85"/><circle cx="291.9" cy="262.7" r="2.85"/><circle cx="283.3" cy="264.6" r="2.85"/><circle cx="283.9" cy="256.2" r="2.85"/><circle cx="280.0" cy="265.4" r="2.85"/><circle cx="291.4" cy="263.0" r="2.85"/><circle cx="291.7" cy="251.5" r="2.85"/><circle cx="282.9" cy="260.0" r="2.85"/><circle cx="291.9" cy="269.1" r="2.85"/><circle cx="284.8" cy="255.8" r="2.85"/><circle cx="285.3" cy="260.4" r="2.85"/><circle cx="291.5" cy="254.5" r="2.85"/><circle cx="290.0" cy="265.0" r="2.85"/><circle cx="290.2" cy="265.7" r="2.85"/><circle cx="287.5" cy="257.2" r="2.85"/><circle cx="284.0" cy="257.9" r="2.85"/><circle cx="289.7" cy="252.5" r="2.85"/><circle cx="282.4" cy="265.3" r="2.85"/><circle cx="283.1" cy="252.2" r="2.85"/><circle cx="280.4" cy="261.5" r="2.85"/><circle cx="284.0" cy="269.6" r="2.85"/><circle cx="291.0" cy="269.8" r="2.85"/><circle cx="283.3" cy="252.6" r="2.85"/><circle cx="281.2" cy="260.5" r="2.85"/><circle cx="288.8" cy="259.5" r="2.85"/><circle cx="282.9" cy="258.9" r="2.85"/><circle cx="287.7" cy="263.8" r="2.85"/><circle cx="289.3" cy="267.1" r="2.85"/><circle cx="288.2" cy="253.3" r="2.85"/><circle cx="290.4" cy="256.6" r="2.85"/><circle cx="287.0" cy="258.1" r="2.85"/><circle cx="289.2" cy="254.8" r="2.85"/><circle cx="283.1" cy="255.7" r="2.85"/><circle cx="281.9" cy="267.8" r="2.85"/><circle cx="287.2" cy="257.2" r="2.85"/><circle cx="284.9" cy="269.9" r="2.85"/><circle cx="286.3" cy="255.4" r="2.85"/><circle cx="290.0" cy="263.4" r="2.85"/><circle cx="292.3" cy="252.9" r="2.85"/><circle cx="285.9" cy="266.6" r="2.85"/><circle cx="290.4" cy="268.4" r="2.85"/><circle cx="280.5" cy="256.6" r="2.85"/><circle cx="281.5" cy="254.6" r="2.85"/><circle cx="292.1" cy="262.1" r="2.85"/><circle cx="291.5" cy="258.1" r="2.85"/><circle cx="290.7" cy="259.5" r="2.85"/><circle cx="283.2" cy="265.8" r="2.85"/><circle cx="291.7" cy="253.0" r="2.85"/><circle cx="287.4" cy="262.8" r="2.85"/><circle cx="280.3" cy="249.0" r="2.85"/><circle cx="280.1" cy="250.4" r="2.85"/><circle cx="280.4" cy="251.7" r="2.85"/><circle cx="281.4" cy="253.8" r="2.85"/><circle cx="279.8" cy="254.8" r="2.85"/><circle cx="281.4" cy="256.5" r="2.85"/><circle cx="280.5" cy="257.9" r="2.85"/><circle cx="281.7" cy="259.5" r="2.85"/><circle cx="280.0" cy="261.4" r="2.85"/><circle cx="280.7" cy="262.4" r="2.85"/><circle cx="281.3" cy="264.5" r="2.85"/><circle cx="280.0" cy="266.0" r="2.85"/><circle cx="289.9" cy="254.0" r="2.85"/><circle cx="290.7" cy="255.6" r="2.85"/><circle cx="290.4" cy="256.5" r="2.85"/><circle cx="290.4" cy="258.7" r="2.85"/><circle cx="290.5" cy="259.6" r="2.85"/><circle cx="292.2" cy="260.8" r="2.85"/><circle cx="290.6" cy="262.9" r="2.85"/><circle cx="291.7" cy="263.4" r="2.85"/><circle cx="289.4" cy="264.7" r="2.85"/><circle cx="290.8" cy="266.9" r="2.85"/><circle cx="290.7" cy="268.2" r="2.85"/><circle cx="290.9" cy="269.7" r="2.85"/><circle cx="289.4" cy="270.2" r="2.85"/><circle cx="291.2" cy="272.0" r="2.85"/><circle cx="314.2" cy="253.6" r="2.85"/><circle cx="313.3" cy="256.3" r="2.85"/><circle cx="313.8" cy="257.8" r="2.85"/><circle cx="313.4" cy="259.6" r="2.85"/><circle cx="314.0" cy="261.3" r="2.85"/><circle cx="314.7" cy="263.6" r="2.85"/><circle cx="280.4" cy="350.0" r="2.85"/><circle cx="282.4" cy="356.4" r="2.85"/><circle cx="292.4" cy="361.4" r="2.85"/><circle cx="278.4" cy="381.4" r="2.85"/><circle cx="313.4" cy="396.6" r="2.85"/><circle cx="306.4" cy="435.4" r="2.85"/><circle cx="313.4" cy="442.4" r="2.85"/><circle cx="311.4" cy="427.1" r="2.85"/><circle cx="311.5" cy="427.5" r="2.85"/><circle cx="307.1" cy="427.0" r="2.85"/><circle cx="309.1" cy="427.9" r="2.85"/><circle cx="312.3" cy="428.2" r="2.85"/><circle cx="307.1" cy="428.1" r="2.85"/><circle cx="313.0" cy="428.4" r="2.85"/><circle cx="307.3" cy="425.4" r="2.85"/><circle cx="307.4" cy="424.7" r="2.85"/><circle cx="312.5" cy="427.8" r="2.85"/><circle cx="311.0" cy="427.9" r="2.85"/><circle cx="311.0" cy="425.7" r="2.85"/><circle cx="307.3" cy="425.0" r="2.85"/><circle cx="363.4" cy="244.0" r="2.85"/><circle cx="359.6" cy="276.4" r="2.85"/><circle cx="364.4" cy="275.0" r="2.85"/><circle cx="378.0" cy="270.0" r="2.85"/><circle cx="382.4" cy="289.2" r="2.85"/><circle cx="346.4" cy="297.4" r="2.85"/><circle cx="358.4" cy="338.4" r="2.85"/><circle cx="365.3" cy="265.9" r="2.85"/><circle cx="360.6" cy="258.7" r="2.85"/><circle cx="350.6" cy="262.8" r="2.85"/><circle cx="349.0" cy="254.1" r="2.85"/><circle cx="354.2" cy="250.7" r="2.85"/><circle cx="354.4" cy="265.8" r="2.85"/><circle cx="359.9" cy="260.0" r="2.85"/><circle cx="358.8" cy="259.3" r="2.85"/><circle cx="349.6" cy="262.1" r="2.85"/><circle cx="354.5" cy="264.8" r="2.85"/><circle cx="363.9" cy="258.6" r="2.85"/><circle cx="357.7" cy="265.0" r="2.85"/><circle cx="354.8" cy="254.6" r="2.85"/><circle cx="360.4" cy="267.6" r="2.85"/><circle cx="361.4" cy="264.0" r="2.85"/><circle cx="362.9" cy="263.6" r="2.85"/><circle cx="358.9" cy="259.1" r="2.85"/><circle cx="352.8" cy="262.6" r="2.85"/><circle cx="348.8" cy="258.4" r="2.85"/><circle cx="361.6" cy="264.3" r="2.85"/><circle cx="358.7" cy="255.0" r="2.85"/><circle cx="354.9" cy="259.1" r="2.85"/><circle cx="358.6" cy="258.2" r="2.85"/><circle cx="359.6" cy="268.6" r="2.85"/><circle cx="350.4" cy="263.1" r="2.85"/><circle cx="361.5" cy="257.8" r="2.85"/><circle cx="356.1" cy="269.5" r="2.85"/><circle cx="347.7" cy="260.9" r="2.85"/><circle cx="350.0" cy="265.6" r="2.85"/><circle cx="364.5" cy="260.4" r="2.85"/><circle cx="348.9" cy="261.5" r="2.85"/><circle cx="357.1" cy="264.3" r="2.85"/><circle cx="356.5" cy="262.8" r="2.85"/><circle cx="362.4" cy="260.4" r="2.85"/><circle cx="354.6" cy="269.0" r="2.85"/><circle cx="350.9" cy="263.7" r="2.85"/><circle cx="354.3" cy="265.3" r="2.85"/><circle cx="349.3" cy="269.7" r="2.85"/><circle cx="353.6" cy="251.1" r="2.85"/><circle cx="352.1" cy="258.0" r="2.85"/><circle cx="347.2" cy="258.4" r="2.85"/><circle cx="354.8" cy="264.0" r="2.85"/><circle cx="353.5" cy="255.3" r="2.85"/><circle cx="351.2" cy="264.8" r="2.85"/><circle cx="364.5" cy="260.5" r="2.85"/><circle cx="351.1" cy="266.0" r="2.85"/><circle cx="354.3" cy="254.2" r="2.85"/><circle cx="349.4" cy="265.5" r="2.85"/><circle cx="362.1" cy="262.7" r="2.85"/><circle cx="355.7" cy="261.2" r="2.85"/><circle cx="351.2" cy="269.3" r="2.85"/><circle cx="353.6" cy="262.8" r="2.85"/><circle cx="362.2" cy="266.3" r="2.85"/><circle cx="355.7" cy="255.9" r="2.85"/><circle cx="357.2" cy="252.5" r="2.85"/><circle cx="362.5" cy="257.1" r="2.85"/><circle cx="362.8" cy="255.3" r="2.85"/><circle cx="354.0" cy="255.1" r="2.85"/><circle cx="354.9" cy="253.7" r="2.85"/><circle cx="347.1" cy="264.4" r="2.85"/><circle cx="352.2" cy="254.9" r="2.85"/><circle cx="352.6" cy="259.6" r="2.85"/><circle cx="355.0" cy="262.7" r="2.85"/><circle cx="359.3" cy="257.2" r="2.85"/><circle cx="364.3" cy="267.1" r="2.85"/><circle cx="348.1" cy="266.6" r="2.85"/><circle cx="363.8" cy="265.7" r="2.85"/><circle cx="349.6" cy="266.6" r="2.85"/><circle cx="380.6" cy="254.0" r="2.85"/><circle cx="377.7" cy="254.5" r="2.85"/><circle cx="380.7" cy="255.8" r="2.85"/><circle cx="378.1" cy="256.2" r="2.85"/><circle cx="378.7" cy="256.9" r="2.85"/><circle cx="379.3" cy="258.1" r="2.85"/><circle cx="381.9" cy="258.5" r="2.85"/><circle cx="378.4" cy="259.6" r="2.85"/><circle cx="380.5" cy="260.5" r="2.85"/><circle cx="380.8" cy="261.2" r="2.85"/><circle cx="381.4" cy="262.0" r="2.85"/><circle cx="378.5" cy="262.8" r="2.85"/><circle cx="380.1" cy="263.5" r="2.85"/><circle cx="379.7" cy="264.3" r="2.85"/><circle cx="380.3" cy="265.1" r="2.85"/><circle cx="378.7" cy="265.5" r="2.85"/><circle cx="380.0" cy="266.2" r="2.85"/><circle cx="379.8" cy="266.9" r="2.85"/><circle cx="378.3" cy="268.0" r="2.85"/><circle cx="353.4" cy="347.6" r="2.85"/><circle cx="352.4" cy="417.0" r="2.85"/><circle cx="377.4" cy="434.0" r="2.85"/><circle cx="365.4" cy="439.0" r="2.85"/><circle cx="408.4" cy="440.4" r="2.85"/><circle cx="407.1" cy="425.1" r="2.85"/><circle cx="405.1" cy="430.5" r="2.85"/><circle cx="408.5" cy="427.7" r="2.85"/><circle cx="407.3" cy="426.5" r="2.85"/><circle cx="408.1" cy="427.4" r="2.85"/><circle cx="408.8" cy="429.3" r="2.85"/><circle cx="408.3" cy="430.4" r="2.85"/><circle cx="406.0" cy="425.2" r="2.85"/><circle cx="405.8" cy="426.0" r="2.85"/><circle cx="405.3" cy="425.3" r="2.85"/><circle cx="487.4" cy="242.4" r="2.85"/><circle cx="464.4" cy="245.6" r="2.85"/><circle cx="494.0" cy="270.0" r="2.85"/><circle cx="497.0" cy="272.0" r="2.85"/><circle cx="503.4" cy="278.0" r="2.85"/><circle cx="456.4" cy="284.0" r="2.85"/><circle cx="496.4" cy="290.4" r="2.85"/><circle cx="514.4" cy="292.4" r="2.85"/><circle cx="489.4" cy="308.4" r="2.85"/><circle cx="496.4" cy="317.0" r="2.85"/><circle cx="525.4" cy="332.4" r="2.85"/><circle cx="484.4" cy="336.4" r="2.85"/><circle cx="462.6" cy="257.5" r="2.85"/><circle cx="461.8" cy="262.8" r="2.85"/><circle cx="457.4" cy="257.8" r="2.85"/><circle cx="458.8" cy="255.4" r="2.85"/><circle cx="460.8" cy="256.0" r="2.85"/><circle cx="458.6" cy="255.7" r="2.85"/><circle cx="462.6" cy="254.1" r="2.85"/><circle cx="463.0" cy="256.3" r="2.85"/><circle cx="456.7" cy="264.8" r="2.85"/><circle cx="458.4" cy="264.8" r="2.85"/><circle cx="464.4" cy="264.3" r="2.85"/><circle cx="457.7" cy="259.2" r="2.85"/><circle cx="457.3" cy="264.8" r="2.85"/><circle cx="464.1" cy="261.3" r="2.85"/><circle cx="460.6" cy="257.9" r="2.85"/><circle cx="464.0" cy="259.5" r="2.85"/><circle cx="462.2" cy="255.7" r="2.85"/><circle cx="458.4" cy="254.7" r="2.85"/><circle cx="463.0" cy="260.4" r="2.85"/><circle cx="457.7" cy="264.1" r="2.85"/><circle cx="458.9" cy="258.8" r="2.85"/><circle cx="457.8" cy="257.1" r="2.85"/><circle cx="464.1" cy="257.9" r="2.85"/><circle cx="457.9" cy="259.7" r="2.85"/><circle cx="459.3" cy="264.5" r="2.85"/><circle cx="457.5" cy="265.4" r="2.85"/><circle cx="456.9" cy="264.4" r="2.85"/><circle cx="462.5" cy="256.4" r="2.85"/><circle cx="460.8" cy="257.3" r="2.85"/><circle cx="458.8" cy="256.3" r="2.85"/><circle cx="464.2" cy="246.0" r="2.85"/><circle cx="465.2" cy="249.7" r="2.85"/><circle cx="463.8" cy="252.2" r="2.85"/><circle cx="464.1" cy="254.0" r="2.85"/><circle cx="501.4" cy="252.9" r="2.85"/><circle cx="497.7" cy="256.4" r="2.85"/><circle cx="503.1" cy="252.2" r="2.85"/><circle cx="499.4" cy="257.1" r="2.85"/><circle cx="485.0" cy="252.0" r="2.85"/><circle cx="500.0" cy="259.9" r="2.85"/><circle cx="486.0" cy="258.5" r="2.85"/><circle cx="501.7" cy="255.3" r="2.85"/><circle cx="494.3" cy="254.1" r="2.85"/><circle cx="485.9" cy="263.6" r="2.85"/><circle cx="497.4" cy="255.0" r="2.85"/><circle cx="483.7" cy="253.3" r="2.85"/><circle cx="495.1" cy="259.4" r="2.85"/><circle cx="487.9" cy="255.1" r="2.85"/><circle cx="495.2" cy="262.6" r="2.85"/><circle cx="499.5" cy="260.7" r="2.85"/><circle cx="486.4" cy="253.0" r="2.85"/><circle cx="497.8" cy="258.1" r="2.85"/><circle cx="497.6" cy="252.8" r="2.85"/><circle cx="499.5" cy="257.0" r="2.85"/><circle cx="500.2" cy="265.0" r="2.85"/><circle cx="492.6" cy="252.2" r="2.85"/><circle cx="501.7" cy="259.1" r="2.85"/><circle cx="500.8" cy="256.0" r="2.85"/><circle cx="486.0" cy="264.5" r="2.85"/><circle cx="489.9" cy="254.5" r="2.85"/><circle cx="490.0" cy="260.9" r="2.85"/><circle cx="482.1" cy="259.8" r="2.85"/><circle cx="491.6" cy="259.7" r="2.85"/><circle cx="484.6" cy="262.7" r="2.85"/><circle cx="499.6" cy="265.0" r="2.85"/><circle cx="488.9" cy="262.7" r="2.85"/><circle cx="490.2" cy="263.3" r="2.85"/><circle cx="483.3" cy="265.1" r="2.85"/><circle cx="502.6" cy="259.4" r="2.85"/><circle cx="493.1" cy="260.0" r="2.85"/><circle cx="493.6" cy="252.3" r="2.85"/><circle cx="502.9" cy="255.4" r="2.85"/><circle cx="485.9" cy="253.5" r="2.85"/><circle cx="487.4" cy="264.3" r="2.85"/><circle cx="482.6" cy="253.4" r="2.85"/><circle cx="497.1" cy="254.9" r="2.85"/><circle cx="482.4" cy="261.0" r="2.85"/><circle cx="494.5" cy="259.8" r="2.85"/><circle cx="497.2" cy="253.5" r="2.85"/><circle cx="500.8" cy="262.8" r="2.85"/><circle cx="483.0" cy="253.8" r="2.85"/><circle cx="492.7" cy="259.5" r="2.85"/><circle cx="488.0" cy="253.8" r="2.85"/><circle cx="490.8" cy="254.1" r="2.85"/><circle cx="494.8" cy="264.9" r="2.85"/><circle cx="485.2" cy="260.6" r="2.85"/><circle cx="498.1" cy="254.5" r="2.85"/><circle cx="499.8" cy="266.1" r="2.85"/><circle cx="490.4" cy="258.3" r="2.85"/><circle cx="500.1" cy="259.9" r="2.85"/><circle cx="490.5" cy="266.1" r="2.85"/><circle cx="498.8" cy="257.1" r="2.85"/><circle cx="487.2" cy="257.0" r="2.85"/><circle cx="491.4" cy="266.7" r="2.85"/><circle cx="499.4" cy="265.7" r="2.85"/><circle cx="499.6" cy="264.7" r="2.85"/><circle cx="483.2" cy="259.8" r="2.85"/><circle cx="502.7" cy="266.0" r="2.85"/><circle cx="487.4" cy="258.3" r="2.85"/><circle cx="495.7" cy="257.5" r="2.85"/><circle cx="493.5" cy="253.0" r="2.85"/><circle cx="491.4" cy="259.6" r="2.85"/><circle cx="482.4" cy="254.1" r="2.85"/><circle cx="502.9" cy="263.6" r="2.85"/><circle cx="502.2" cy="261.5" r="2.85"/><circle cx="499.5" cy="265.3" r="2.85"/><circle cx="501.1" cy="252.5" r="2.85"/><circle cx="495.9" cy="256.0" r="2.85"/><circle cx="496.7" cy="256.1" r="2.85"/><circle cx="493.7" cy="265.9" r="2.85"/><circle cx="524.7" cy="259.0" r="2.85"/><circle cx="523.3" cy="261.9" r="2.85"/><circle cx="529.3" cy="259.6" r="2.85"/><circle cx="520.3" cy="265.4" r="2.85"/><circle cx="517.7" cy="264.5" r="2.85"/><circle cx="529.4" cy="263.2" r="2.85"/><circle cx="519.8" cy="262.5" r="2.85"/><circle cx="523.5" cy="257.4" r="2.85"/><circle cx="517.7" cy="257.1" r="2.85"/><circle cx="520.1" cy="261.5" r="2.85"/><circle cx="520.0" cy="258.9" r="2.85"/><circle cx="517.2" cy="263.7" r="2.85"/><circle cx="527.8" cy="264.8" r="2.85"/><circle cx="524.0" cy="265.4" r="2.85"/><circle cx="518.8" cy="266.4" r="2.85"/><circle cx="522.5" cy="263.8" r="2.85"/><circle cx="524.6" cy="262.5" r="2.85"/><circle cx="520.3" cy="258.9" r="2.85"/><circle cx="519.1" cy="263.2" r="2.85"/><circle cx="521.4" cy="264.4" r="2.85"/><circle cx="516.2" cy="260.6" r="2.85"/><circle cx="528.1" cy="258.8" r="2.85"/><circle cx="523.8" cy="262.9" r="2.85"/><circle cx="520.0" cy="270.8" r="2.85"/><circle cx="520.1" cy="267.4" r="2.85"/><circle cx="518.2" cy="256.1" r="2.85"/><circle cx="528.2" cy="262.0" r="2.85"/><circle cx="516.9" cy="261.2" r="2.85"/><circle cx="522.2" cy="266.8" r="2.85"/><circle cx="517.5" cy="258.6" r="2.85"/><circle cx="529.4" cy="266.8" r="2.85"/><circle cx="518.2" cy="260.4" r="2.85"/><circle cx="520.9" cy="265.8" r="2.85"/><circle cx="524.6" cy="268.6" r="2.85"/><circle cx="527.5" cy="263.3" r="2.85"/><circle cx="526.3" cy="266.9" r="2.85"/><circle cx="526.6" cy="262.6" r="2.85"/><circle cx="527.0" cy="266.3" r="2.85"/><circle cx="528.8" cy="257.0" r="2.85"/><circle cx="528.2" cy="255.1" r="2.85"/><circle cx="526.7" cy="264.4" r="2.85"/><circle cx="523.0" cy="270.4" r="2.85"/><circle cx="524.0" cy="261.7" r="2.85"/><circle cx="527.0" cy="269.0" r="2.85"/><circle cx="524.5" cy="261.1" r="2.85"/><circle cx="522.3" cy="262.3" r="2.85"/><circle cx="526.1" cy="259.7" r="2.85"/><circle cx="521.5" cy="263.9" r="2.85"/><circle cx="521.4" cy="260.2" r="2.85"/><circle cx="527.0" cy="268.6" r="2.85"/><circle cx="523.0" cy="262.1" r="2.85"/><circle cx="521.8" cy="253.1" r="2.85"/><circle cx="521.4" cy="255.0" r="2.85"/><circle cx="525.8" cy="251.6" r="2.85"/><circle cx="529.2" cy="253.3" r="2.85"/><circle cx="528.4" cy="256.9" r="2.85"/><circle cx="529.6" cy="252.4" r="2.85"/><circle cx="524.3" cy="257.4" r="2.85"/><circle cx="520.1" cy="251.3" r="2.85"/><circle cx="525.6" cy="254.5" r="2.85"/><circle cx="529.2" cy="256.4" r="2.85"/><circle cx="525.4" cy="258.0" r="2.85"/><circle cx="525.2" cy="254.6" r="2.85"/><circle cx="526.9" cy="253.7" r="2.85"/><circle cx="499.4" cy="359.4" r="2.85"/><circle cx="457.4" cy="370.4" r="2.85"/><circle cx="488.4" cy="385.6" r="2.85"/><circle cx="499.4" cy="401.4" r="2.85"/><circle cx="454.4" cy="409.4" r="2.85"/><circle cx="456.0" cy="410.0" r="2.85"/><circle cx="455.0" cy="417.4" r="2.85"/><circle cx="459.6" cy="417.4" r="2.85"/><circle cx="483.4" cy="421.4" r="2.85"/><circle cx="465.4" cy="427.4" r="2.85"/><circle cx="454.4" cy="431.4" r="2.85"/><circle cx="481.4" cy="438.4" r="2.85"/><circle cx="525.4" cy="435.4" r="2.85"/><circle cx="581.4" cy="220.0" r="2.85"/><circle cx="574.4" cy="224.4" r="2.85"/><circle cx="574.9" cy="232.1" r="2.85"/><circle cx="575.9" cy="239.6" r="2.85"/><circle cx="577.8" cy="229.0" r="2.85"/><circle cx="576.9" cy="235.4" r="2.85"/><circle cx="577.2" cy="230.0" r="2.85"/><circle cx="574.9" cy="227.2" r="2.85"/><circle cx="581.9" cy="240.5" r="2.85"/><circle cx="575.0" cy="239.9" r="2.85"/><circle cx="581.8" cy="237.1" r="2.85"/><circle cx="575.2" cy="235.8" r="2.85"/><circle cx="577.7" cy="230.4" r="2.85"/><circle cx="578.5" cy="227.1" r="2.85"/><circle cx="581.4" cy="238.6" r="2.85"/><circle cx="579.2" cy="243.8" r="2.85"/><circle cx="579.4" cy="231.5" r="2.85"/><circle cx="576.3" cy="229.5" r="2.85"/><circle cx="574.6" cy="240.9" r="2.85"/><circle cx="580.8" cy="232.3" r="2.85"/><circle cx="575.8" cy="238.5" r="2.85"/><circle cx="580.8" cy="243.7" r="2.85"/><circle cx="575.7" cy="241.1" r="2.85"/><circle cx="580.7" cy="240.4" r="2.85"/><circle cx="576.9" cy="230.3" r="2.85"/><circle cx="580.7" cy="232.8" r="2.85"/><circle cx="577.2" cy="236.9" r="2.85"/><circle cx="577.2" cy="242.0" r="2.85"/><circle cx="576.2" cy="227.7" r="2.85"/><circle cx="578.7" cy="238.3" r="2.85"/><circle cx="580.6" cy="239.7" r="2.85"/><circle cx="581.3" cy="244.0" r="2.85"/><circle cx="538.1" cy="261.4" r="2.85"/><circle cx="532.6" cy="257.8" r="2.85"/><circle cx="539.5" cy="253.8" r="2.85"/><circle cx="541.3" cy="255.3" r="2.85"/><circle cx="537.3" cy="269.9" r="2.85"/><circle cx="531.5" cy="253.1" r="2.85"/><circle cx="537.2" cy="255.8" r="2.85"/><circle cx="541.9" cy="252.5" r="2.85"/><circle cx="543.8" cy="267.8" r="2.85"/><circle cx="542.9" cy="260.1" r="2.85"/><circle cx="534.6" cy="264.3" r="2.85"/><circle cx="538.4" cy="260.0" r="2.85"/><circle cx="535.6" cy="260.3" r="2.85"/><circle cx="540.9" cy="267.3" r="2.85"/><circle cx="544.8" cy="255.4" r="2.85"/><circle cx="534.9" cy="260.4" r="2.85"/><circle cx="539.2" cy="258.7" r="2.85"/><circle cx="533.2" cy="253.9" r="2.85"/><circle cx="535.3" cy="260.7" r="2.85"/><circle cx="545.9" cy="268.8" r="2.85"/><circle cx="544.2" cy="269.9" r="2.85"/><circle cx="545.8" cy="263.6" r="2.85"/><circle cx="543.3" cy="253.5" r="2.85"/><circle cx="541.1" cy="263.4" r="2.85"/><circle cx="534.9" cy="262.7" r="2.85"/><circle cx="545.6" cy="261.1" r="2.85"/><circle cx="540.6" cy="257.8" r="2.85"/><circle cx="535.6" cy="268.3" r="2.85"/><circle cx="530.5" cy="255.8" r="2.85"/><circle cx="541.1" cy="260.5" r="2.85"/><circle cx="531.4" cy="264.3" r="2.85"/><circle cx="536.1" cy="262.9" r="2.85"/><circle cx="536.8" cy="261.9" r="2.85"/><circle cx="539.3" cy="259.5" r="2.85"/><circle cx="531.9" cy="255.6" r="2.85"/><circle cx="544.6" cy="262.3" r="2.85"/><circle cx="531.8" cy="267.9" r="2.85"/><circle cx="534.2" cy="254.1" r="2.85"/><circle cx="538.7" cy="256.9" r="2.85"/><circle cx="538.0" cy="262.4" r="2.85"/><circle cx="533.7" cy="262.7" r="2.85"/><circle cx="531.9" cy="261.6" r="2.85"/><circle cx="539.7" cy="253.8" r="2.85"/><circle cx="536.7" cy="253.7" r="2.85"/><circle cx="537.2" cy="267.9" r="2.85"/><circle cx="539.0" cy="265.3" r="2.85"/><circle cx="542.4" cy="254.5" r="2.85"/><circle cx="546.2" cy="265.4" r="2.85"/><circle cx="531.7" cy="267.3" r="2.85"/><circle cx="536.4" cy="255.5" r="2.85"/><circle cx="545.7" cy="262.5" r="2.85"/><circle cx="542.7" cy="254.9" r="2.85"/><circle cx="542.7" cy="253.4" r="2.85"/><circle cx="533.9" cy="259.1" r="2.85"/><circle cx="530.2" cy="263.1" r="2.85"/><circle cx="533.5" cy="257.8" r="2.85"/><circle cx="541.6" cy="260.1" r="2.85"/><circle cx="544.6" cy="263.6" r="2.85"/><circle cx="544.3" cy="262.5" r="2.85"/><circle cx="545.0" cy="268.1" r="2.85"/><circle cx="532.8" cy="265.8" r="2.85"/><circle cx="535.6" cy="266.1" r="2.85"/><circle cx="541.2" cy="267.3" r="2.85"/><circle cx="532.0" cy="259.1" r="2.85"/><circle cx="542.1" cy="269.5" r="2.85"/><circle cx="541.8" cy="253.2" r="2.85"/><circle cx="539.9" cy="254.2" r="2.85"/><circle cx="539.0" cy="266.9" r="2.85"/><circle cx="536.4" cy="247.4" r="2.85"/><circle cx="539.0" cy="249.0" r="2.85"/><circle cx="600.4" cy="331.4" r="2.85"/><circle cx="581.4" cy="338.0" r="2.85"/><circle cx="535.4" cy="338.4" r="2.85"/><circle cx="584.1" cy="248.0" r="2.85"/><circle cx="587.4" cy="249.0" r="2.85"/><circle cx="584.5" cy="249.3" r="2.85"/><circle cx="588.3" cy="250.1" r="2.85"/><circle cx="583.9" cy="250.9" r="2.85"/><circle cx="583.9" cy="251.3" r="2.85"/><circle cx="584.3" cy="252.4" r="2.85"/><circle cx="584.9" cy="253.0" r="2.85"/><circle cx="585.4" cy="253.8" r="2.85"/><circle cx="588.3" cy="254.2" r="2.85"/><circle cx="587.1" cy="255.1" r="2.85"/><circle cx="588.7" cy="256.0" r="2.85"/><circle cx="585.0" cy="256.2" r="2.85"/><circle cx="585.9" cy="257.0" r="2.85"/><circle cx="587.6" cy="258.1" r="2.85"/><circle cx="583.9" cy="258.4" r="2.85"/><circle cx="586.8" cy="259.5" r="2.85"/><circle cx="585.6" cy="260.0" r="2.85"/><circle cx="587.8" cy="260.6" r="2.85"/><circle cx="587.9" cy="261.4" r="2.85"/><circle cx="583.1" cy="262.3" r="2.85"/><circle cx="583.9" cy="262.8" r="2.85"/><circle cx="586.1" cy="263.8" r="2.85"/><circle cx="583.5" cy="264.1" r="2.85"/><circle cx="585.3" cy="265.0" r="2.85"/><circle cx="584.8" cy="265.8" r="2.85"/><circle cx="582.4" cy="266.4" r="2.85"/><circle cx="584.4" cy="267.2" r="2.85"/><circle cx="585.1" cy="267.6" r="2.85"/><circle cx="582.5" cy="268.9" r="2.85"/><circle cx="586.3" cy="269.1" r="2.85"/><circle cx="583.8" cy="270.0" r="2.85"/><circle cx="598.9" cy="264.4" r="2.85"/><circle cx="598.8" cy="265.7" r="2.85"/><circle cx="599.5" cy="267.0" r="2.85"/><circle cx="600.6" cy="268.7" r="2.85"/><circle cx="599.5" cy="269.0" r="2.85"/><circle cx="600.3" cy="271.0" r="2.85"/><circle cx="599.7" cy="272.3" r="2.85"/><circle cx="599.1" cy="273.4" r="2.85"/><circle cx="600.1" cy="274.4" r="2.85"/><circle cx="600.5" cy="276.2" r="2.85"/><circle cx="598.9" cy="277.3" r="2.85"/><circle cx="600.0" cy="278.4" r="2.85"/><circle cx="544.4" cy="352.4" r="2.85"/><circle cx="574.4" cy="357.4" r="2.85"/><circle cx="589.4" cy="344.4" r="2.85"/><circle cx="598.4" cy="351.4" r="2.85"/><circle cx="546.4" cy="385.4" r="2.85"/><circle cx="593.4" cy="413.4" r="2.85"/><circle cx="597.4" cy="412.4" r="2.85"/><circle cx="535.4" cy="424.4" r="2.85"/><circle cx="543.4" cy="440.4" r="2.85"/><circle cx="595.0" cy="357.0" r="2.85"/><circle cx="596.1" cy="357.6" r="2.85"/><circle cx="596.5" cy="358.9" r="2.85"/><circle cx="593.9" cy="360.0" r="2.85"/><circle cx="593.7" cy="360.6" r="2.85"/><circle cx="593.8" cy="362.0" r="2.85"/><circle cx="596.4" cy="362.4" r="2.85"/><circle cx="593.6" cy="363.7" r="2.85"/><circle cx="596.2" cy="364.7" r="2.85"/><circle cx="593.6" cy="365.5" r="2.85"/><circle cx="595.1" cy="366.6" r="2.85"/><circle cx="595.7" cy="367.4" r="2.85"/><circle cx="646.7" cy="259.0" r="2.85"/><circle cx="646.2" cy="259.8" r="2.85"/><circle cx="645.7" cy="260.6" r="2.85"/><circle cx="644.2" cy="261.4" r="2.85"/><circle cx="646.4" cy="261.9" r="2.85"/><circle cx="646.7" cy="262.7" r="2.85"/><circle cx="643.4" cy="263.5" r="2.85"/><circle cx="646.1" cy="264.2" r="2.85"/><circle cx="644.7" cy="265.5" r="2.85"/><circle cx="644.0" cy="266.1" r="2.85"/><circle cx="645.7" cy="267.0" r="2.85"/><circle cx="643.2" cy="267.3" r="2.85"/><circle cx="643.2" cy="268.5" r="2.85"/><circle cx="644.2" cy="269.3" r="2.85"/><circle cx="645.3" cy="269.7" r="2.85"/><circle cx="645.2" cy="270.6" r="2.85"/><circle cx="646.6" cy="271.2" r="2.85"/><circle cx="646.4" cy="272.1" r="2.85"/><circle cx="643.6" cy="273.0" r="2.85"/><circle cx="658.4" cy="254.0" r="2.85"/><circle cx="656.5" cy="255.1" r="2.85"/><circle cx="656.4" cy="255.2" r="2.85"/><circle cx="655.7" cy="256.4" r="2.85"/><circle cx="655.0" cy="257.1" r="2.85"/><circle cx="658.1" cy="257.8" r="2.85"/><circle cx="657.9" cy="258.5" r="2.85"/><circle cx="658.6" cy="259.1" r="2.85"/><circle cx="659.0" cy="259.9" r="2.85"/><circle cx="659.1" cy="261.2" r="2.85"/><circle cx="656.0" cy="261.6" r="2.85"/><circle cx="658.2" cy="262.3" r="2.85"/><circle cx="659.1" cy="263.1" r="2.85"/><circle cx="656.9" cy="263.7" r="2.85"/><circle cx="657.5" cy="264.9" r="2.85"/><circle cx="655.0" cy="265.5" r="2.85"/><circle cx="655.9" cy="266.0" r="2.85"/><circle cx="658.7" cy="267.2" r="2.85"/><circle cx="659.0" cy="267.5" r="2.85"/><circle cx="657.5" cy="268.2" r="2.85"/><circle cx="656.3" cy="269.5" r="2.85"/><circle cx="659.1" cy="270.0" r="2.85"/><circle cx="669.1" cy="288.6" r="2.85"/><circle cx="666.9" cy="289.0" r="2.85"/><circle cx="666.3" cy="289.9" r="2.85"/><circle cx="665.8" cy="290.8" r="2.85"/><circle cx="666.6" cy="291.5" r="2.85"/><circle cx="668.4" cy="291.8" r="2.85"/><circle cx="668.4" cy="292.5" r="2.85"/><circle cx="668.7" cy="293.5" r="2.85"/><circle cx="664.8" cy="294.0" r="2.85"/><circle cx="665.3" cy="294.8" r="2.85"/><circle cx="665.5" cy="295.5" r="2.85"/><circle cx="667.0" cy="296.2" r="2.85"/><circle cx="669.1" cy="296.7" r="2.85"/><circle cx="665.8" cy="297.3" r="2.85"/><circle cx="666.9" cy="298.4" r="2.85"/><circle cx="670.5" cy="299.0" r="2.85"/><circle cx="665.6" cy="299.5" r="2.85"/><circle cx="670.6" cy="300.0" r="2.85"/><circle cx="668.0" cy="300.7" r="2.85"/><circle cx="665.4" cy="301.6" r="2.85"/><circle cx="665.7" cy="302.2" r="2.85"/><circle cx="668.0" cy="303.0" r="2.85"/><circle cx="665.9" cy="303.6" r="2.85"/><circle cx="666.0" cy="304.3" r="2.85"/><circle cx="665.5" cy="305.0" r="2.85"/><circle cx="646.4" cy="284.4" r="2.85"/><circle cx="654.4" cy="303.4" r="2.85"/><circle cx="659.4" cy="301.0" r="2.85"/><circle cx="643.4" cy="330.4" r="2.85"/><circle cx="704.4" cy="250.0" r="2.85"/><circle cx="728.4" cy="287.4" r="2.85"/><circle cx="701.8" cy="251.0" r="2.85"/><circle cx="703.0" cy="252.2" r="2.85"/><circle cx="700.7" cy="253.1" r="2.85"/><circle cx="702.9" cy="254.0" r="2.85"/><circle cx="703.3" cy="254.8" r="2.85"/><circle cx="701.7" cy="255.6" r="2.85"/><circle cx="701.3" cy="256.5" r="2.85"/><circle cx="700.7" cy="257.1" r="2.85"/><circle cx="703.1" cy="258.0" r="2.85"/><circle cx="704.9" cy="258.9" r="2.85"/><circle cx="703.4" cy="259.6" r="2.85"/><circle cx="703.5" cy="260.6" r="2.85"/><circle cx="704.0" cy="261.9" r="2.85"/><circle cx="701.8" cy="262.2" r="2.85"/><circle cx="705.3" cy="263.5" r="2.85"/><circle cx="703.6" cy="264.0" r="2.85"/><circle cx="704.5" cy="265.4" r="2.85"/><circle cx="704.5" cy="266.0" r="2.85"/><circle cx="702.8" cy="267.0" r="2.85"/><circle cx="717.0" cy="251.0" r="2.85"/><circle cx="717.1" cy="251.5" r="2.85"/><circle cx="714.6" cy="252.7" r="2.85"/><circle cx="713.8" cy="253.4" r="2.85"/><circle cx="715.9" cy="254.7" r="2.85"/><circle cx="714.3" cy="255.2" r="2.85"/><circle cx="713.6" cy="256.1" r="2.85"/><circle cx="714.2" cy="257.0" r="2.85"/><circle cx="717.4" cy="258.4" r="2.85"/><circle cx="714.9" cy="259.2" r="2.85"/><circle cx="716.3" cy="259.9" r="2.85"/><circle cx="716.2" cy="261.1" r="2.85"/><circle cx="713.6" cy="261.8" r="2.85"/><circle cx="716.7" cy="262.6" r="2.85"/><circle cx="713.0" cy="263.6" r="2.85"/><circle cx="714.3" cy="264.5" r="2.85"/><circle cx="717.2" cy="265.0" r="2.85"/><circle cx="716.2" cy="266.2" r="2.85"/><circle cx="713.2" cy="267.0" r="2.85"/><circle cx="644.4" cy="361.4" r="2.85"/><circle cx="664.4" cy="367.4" r="2.85"/><circle cx="645.4" cy="372.4" r="2.85"/><circle cx="718.4" cy="350.4" r="2.85"/><circle cx="713.4" cy="380.4" r="2.85"/><circle cx="647.4" cy="394.4" r="2.85"/><circle cx="671.4" cy="404.4" r="2.85"/><circle cx="700.4" cy="416.4" r="2.85"/><circle cx="706.4" cy="434.4" r="2.85"/><circle cx="732.9" cy="254.0" r="2.85"/><circle cx="732.7" cy="254.6" r="2.85"/><circle cx="731.7" cy="256.2" r="2.85"/><circle cx="730.7" cy="257.1" r="2.85"/><circle cx="731.8" cy="258.1" r="2.85"/><circle cx="731.0" cy="258.9" r="2.85"/><circle cx="731.4" cy="259.5" r="2.85"/><circle cx="730.4" cy="260.5" r="2.85"/><circle cx="733.9" cy="261.5" r="2.85"/><circle cx="733.7" cy="262.6" r="2.85"/><circle cx="733.3" cy="263.6" r="2.85"/><circle cx="733.0" cy="264.8" r="2.85"/><circle cx="731.0" cy="265.2" r="2.85"/><circle cx="730.1" cy="266.2" r="2.85"/><circle cx="733.5" cy="267.0" r="2.85"/><circle cx="731.3" cy="268.5" r="2.85"/><circle cx="733.1" cy="269.3" r="2.85"/><circle cx="733.2" cy="270.4" r="2.85"/><circle cx="732.1" cy="271.0" r="2.85"/><circle cx="730.0" cy="287.4" r="2.85"/><circle cx="757.0" cy="249.0" r="2.85"/><circle cx="762.0" cy="251.0" r="2.85"/><circle cx="769.0" cy="252.0" r="2.85"/><circle cx="804.4" cy="256.0" r="2.85"/><circle cx="804.4" cy="259.0" r="2.85"/><circle cx="804.0" cy="269.0" r="2.85"/><circle cx="803.6" cy="271.6" r="2.85"/><circle cx="757.4" cy="301.4" r="2.85"/><circle cx="757.4" cy="308.4" r="2.85"/><circle cx="790.4" cy="316.4" r="2.85"/><circle cx="756.6" cy="263.4" r="2.85"/><circle cx="759.7" cy="260.4" r="2.85"/><circle cx="760.5" cy="259.1" r="2.85"/><circle cx="769.5" cy="253.4" r="2.85"/><circle cx="763.0" cy="260.7" r="2.85"/><circle cx="763.1" cy="265.1" r="2.85"/><circle cx="761.1" cy="264.7" r="2.85"/><circle cx="765.3" cy="265.5" r="2.85"/><circle cx="756.3" cy="254.2" r="2.85"/><circle cx="759.3" cy="264.6" r="2.85"/><circle cx="755.2" cy="254.9" r="2.85"/><circle cx="765.7" cy="265.8" r="2.85"/><circle cx="757.6" cy="257.6" r="2.85"/><circle cx="765.3" cy="261.4" r="2.85"/><circle cx="766.2" cy="262.3" r="2.85"/><circle cx="758.7" cy="254.9" r="2.85"/><circle cx="755.4" cy="261.4" r="2.85"/><circle cx="758.1" cy="254.9" r="2.85"/><circle cx="769.5" cy="260.6" r="2.85"/><circle cx="763.9" cy="260.8" r="2.85"/><circle cx="764.0" cy="261.4" r="2.85"/><circle cx="759.6" cy="252.0" r="2.85"/><circle cx="756.0" cy="251.2" r="2.85"/><circle cx="760.4" cy="253.1" r="2.85"/><circle cx="756.7" cy="258.4" r="2.85"/><circle cx="769.5" cy="261.3" r="2.85"/><circle cx="759.1" cy="262.5" r="2.85"/><circle cx="757.7" cy="252.5" r="2.85"/><circle cx="759.5" cy="257.1" r="2.85"/><circle cx="765.3" cy="257.7" r="2.85"/><circle cx="765.9" cy="252.4" r="2.85"/><circle cx="769.0" cy="256.1" r="2.85"/><circle cx="767.5" cy="251.5" r="2.85"/><circle cx="767.4" cy="254.4" r="2.85"/><circle cx="767.8" cy="263.0" r="2.85"/><circle cx="765.1" cy="255.2" r="2.85"/><circle cx="755.1" cy="253.8" r="2.85"/><circle cx="768.6" cy="253.4" r="2.85"/><circle cx="764.9" cy="259.8" r="2.85"/><circle cx="764.9" cy="253.7" r="2.85"/><circle cx="757.2" cy="252.5" r="2.85"/><circle cx="769.7" cy="256.7" r="2.85"/><circle cx="764.8" cy="259.5" r="2.85"/><circle cx="758.3" cy="252.0" r="2.85"/><circle cx="755.2" cy="263.8" r="2.85"/><circle cx="757.0" cy="265.4" r="2.85"/><circle cx="760.5" cy="261.8" r="2.85"/><circle cx="757.1" cy="262.8" r="2.85"/><circle cx="758.8" cy="256.5" r="2.85"/><circle cx="762.8" cy="252.7" r="2.85"/><circle cx="758.7" cy="262.9" r="2.85"/><circle cx="768.1" cy="260.0" r="2.85"/><circle cx="770.1" cy="261.2" r="2.85"/><circle cx="767.8" cy="262.3" r="2.85"/><circle cx="768.5" cy="263.5" r="2.85"/><circle cx="769.6" cy="265.0" r="2.85"/><circle cx="770.5" cy="266.3" r="2.85"/><circle cx="769.7" cy="267.2" r="2.85"/><circle cx="767.9" cy="269.3" r="2.85"/><circle cx="768.8" cy="269.7" r="2.85"/><circle cx="768.8" cy="271.1" r="2.85"/><circle cx="767.4" cy="272.9" r="2.85"/><circle cx="767.5" cy="274.0" r="2.85"/><circle cx="792.3" cy="259.0" r="2.85"/><circle cx="791.1" cy="259.7" r="2.85"/><circle cx="790.6" cy="260.9" r="2.85"/><circle cx="791.7" cy="261.5" r="2.85"/><circle cx="794.5" cy="262.8" r="2.85"/><circle cx="790.3" cy="263.8" r="2.85"/><circle cx="793.6" cy="264.5" r="2.85"/><circle cx="794.2" cy="265.7" r="2.85"/><circle cx="794.1" cy="267.0" r="2.85"/><circle cx="794.5" cy="267.3" r="2.85"/><circle cx="791.2" cy="268.5" r="2.85"/><circle cx="794.2" cy="269.2" r="2.85"/><circle cx="790.4" cy="270.2" r="2.85"/><circle cx="794.4" cy="271.2" r="2.85"/><circle cx="793.5" cy="272.3" r="2.85"/><circle cx="792.2" cy="273.0" r="2.85"/><circle cx="791.0" cy="274.1" r="2.85"/><circle cx="791.7" cy="275.3" r="2.85"/><circle cx="794.7" cy="275.9" r="2.85"/><circle cx="790.9" cy="277.1" r="2.85"/><circle cx="793.1" cy="277.7" r="2.85"/><circle cx="792.5" cy="279.0" r="2.85"/><circle cx="827.3" cy="264.0" r="2.85"/><circle cx="829.0" cy="265.2" r="2.85"/><circle cx="827.8" cy="266.6" r="2.85"/><circle cx="828.7" cy="267.8" r="2.85"/><circle cx="827.5" cy="269.2" r="2.85"/><circle cx="829.5" cy="270.7" r="2.85"/><circle cx="829.3" cy="271.9" r="2.85"/><circle cx="829.4" cy="272.8" r="2.85"/><circle cx="827.7" cy="273.9" r="2.85"/><circle cx="829.4" cy="275.6" r="2.85"/><circle cx="827.7" cy="276.3" r="2.85"/><circle cx="827.3" cy="278.0" r="2.85"/><circle cx="763.4" cy="363.4" r="2.85"/><circle cx="733.4" cy="388.4" r="2.85"/><circle cx="804.4" cy="385.4" r="2.85"/><circle cx="803.4" cy="397.4" r="2.85"/><circle cx="754.4" cy="422.4" r="2.85"/><circle cx="770.4" cy="420.4" r="2.85"/><circle cx="779.4" cy="429.4" r="2.85"/><circle cx="784.4" cy="431.4" r="2.85"/><circle cx="765.4" cy="437.4" r="2.85"/><circle cx="819.4" cy="433.0" r="2.85"/><circle cx="827.4" cy="420.4" r="2.85"/><circle cx="827.4" cy="432.4" r="2.85"/><circle cx="795.4" cy="441.4" r="2.85"/><circle cx="780.5" cy="410.4" r="2.85"/><circle cx="781.0" cy="410.8" r="2.85"/><circle cx="780.0" cy="409.8" r="2.85"/><circle cx="782.0" cy="411.9" r="2.85"/><circle cx="780.2" cy="413.1" r="2.85"/><circle cx="784.9" cy="413.1" r="2.85"/><circle cx="781.7" cy="414.0" r="2.85"/><circle cx="782.2" cy="410.1" r="2.85"/><circle cx="782.4" cy="408.9" r="2.85"/><circle cx="783.5" cy="410.0" r="2.85"/><circle cx="781.8" cy="415.9" r="2.85"/><circle cx="783.9" cy="415.0" r="2.85"/><circle cx="783.3" cy="413.5" r="2.85"/><circle cx="783.6" cy="416.0" r="2.85"/><circle cx="780.9" cy="414.5" r="2.85"/><circle cx="781.4" cy="410.7" r="2.85"/><circle cx="784.2" cy="413.2" r="2.85"/><circle cx="784.4" cy="415.3" r="2.85"/><circle cx="783.0" cy="410.3" r="2.85"/><circle cx="779.9" cy="412.8" r="2.85"/><circle cx="783.7" cy="410.8" r="2.85"/><circle cx="780.2" cy="408.8" r="2.85"/><circle cx="780.7" cy="413.9" r="2.85"/><circle cx="779.8" cy="410.5" r="2.85"/><circle cx="781.2" cy="414.1" r="2.85"/><circle cx="785.1" cy="408.9" r="2.85"/><circle cx="780.4" cy="415.7" r="2.85"/><circle cx="785.0" cy="409.9" r="2.85"/><circle cx="781.6" cy="412.7" r="2.85"/><circle cx="781.5" cy="411.9" r="2.85"/><circle cx="782.4" cy="410.7" r="2.85"/><circle cx="780.1" cy="409.4" r="2.85"/><circle cx="780.7" cy="409.5" r="2.85"/><circle cx="783.2" cy="414.0" r="2.85"/><circle cx="821.9" cy="413.4" r="2.85"/><circle cx="825.4" cy="411.1" r="2.85"/><circle cx="823.6" cy="410.3" r="2.85"/><circle cx="826.9" cy="412.2" r="2.85"/><circle cx="820.4" cy="410.2" r="2.85"/><circle cx="825.1" cy="411.3" r="2.85"/><circle cx="825.3" cy="410.5" r="2.85"/><circle cx="825.9" cy="413.4" r="2.85"/><circle cx="820.7" cy="412.3" r="2.85"/><circle cx="821.4" cy="412.9" r="2.85"/><circle cx="825.9" cy="413.4" r="2.85"/><circle cx="821.7" cy="409.9" r="2.85"/><circle cx="824.9" cy="412.2" r="2.85"/><circle cx="821.0" cy="410.4" r="2.85"/><circle cx="824.3" cy="409.9" r="2.85"/><circle cx="824.7" cy="410.6" r="2.85"/><circle cx="821.9" cy="411.5" r="2.85"/><circle cx="823.9" cy="413.0" r="2.85"/><circle cx="820.2" cy="413.0" r="2.85"/><circle cx="821.6" cy="410.9" r="2.85"/><circle cx="824.7" cy="412.9" r="2.85"/><circle cx="824.5" cy="413.9" r="2.85"/><circle cx="821.5" cy="411.0" r="2.85"/><circle cx="824.9" cy="410.7" r="2.85"/><circle cx="821.2" cy="410.5" r="2.85"/><circle cx="825.7" cy="413.5" r="2.85"/><circle cx="825.3" cy="414.2" r="2.85"/><circle cx="825.9" cy="410.9" r="2.85"/><circle cx="822.3" cy="413.0" r="2.85"/><circle cx="820.4" cy="412.4" r="2.85"/><circle cx="820.7" cy="409.6" r="2.85"/><circle cx="823.8" cy="410.2" r="2.85"/><circle cx="826.9" cy="413.8" r="2.85"/><circle cx="823.4" cy="410.4" r="2.85"/><circle cx="820.9" cy="411.9" r="2.85"/><circle cx="823.9" cy="411.2" r="2.85"/><circle cx="825.3" cy="412.0" r="2.85"/><circle cx="831.3" cy="265.7" r="2.85"/><circle cx="830.4" cy="277.6" r="2.85"/><circle cx="831.5" cy="273.5" r="2.85"/><circle cx="834.3" cy="275.3" r="2.85"/><circle cx="830.5" cy="277.8" r="2.85"/><circle cx="833.8" cy="278.9" r="2.85"/><circle cx="833.4" cy="275.3" r="2.85"/><circle cx="833.9" cy="267.8" r="2.85"/><circle cx="832.9" cy="269.7" r="2.85"/><circle cx="834.0" cy="266.0" r="2.85"/><circle cx="832.2" cy="269.0" r="2.85"/><circle cx="833.9" cy="269.2" r="2.85"/><circle cx="834.1" cy="276.7" r="2.85"/><circle cx="834.3" cy="266.1" r="2.85"/><circle cx="834.6" cy="275.2" r="2.85"/><circle cx="833.1" cy="273.8" r="2.85"/><circle cx="829.3" cy="277.1" r="2.85"/><circle cx="832.3" cy="270.8" r="2.85"/><circle cx="831.0" cy="275.7" r="2.85"/><circle cx="833.7" cy="277.0" r="2.85"/><circle cx="830.3" cy="269.1" r="2.85"/><circle cx="830.5" cy="265.5" r="2.85"/><circle cx="831.0" cy="264.4" r="2.85"/><circle cx="833.8" cy="267.4" r="2.85"/><circle cx="829.4" cy="265.0" r="2.85"/><circle cx="833.4" cy="267.0" r="2.85"/><circle cx="831.8" cy="270.0" r="2.85"/><circle cx="855.4" cy="261.0" r="2.85"/><circle cx="862.4" cy="285.6" r="2.85"/><circle cx="860.9" cy="279.2" r="2.85"/><circle cx="857.3" cy="274.0" r="2.85"/><circle cx="861.6" cy="271.3" r="2.85"/><circle cx="861.7" cy="275.6" r="2.85"/><circle cx="857.3" cy="277.9" r="2.85"/><circle cx="859.2" cy="265.3" r="2.85"/><circle cx="859.3" cy="277.2" r="2.85"/><circle cx="858.8" cy="271.5" r="2.85"/><circle cx="858.1" cy="278.0" r="2.85"/><circle cx="859.9" cy="267.0" r="2.85"/><circle cx="857.7" cy="269.6" r="2.85"/><circle cx="862.1" cy="275.0" r="2.85"/><circle cx="855.9" cy="278.6" r="2.85"/><circle cx="855.3" cy="273.3" r="2.85"/><circle cx="858.2" cy="275.4" r="2.85"/><circle cx="858.2" cy="265.1" r="2.85"/><circle cx="858.9" cy="277.1" r="2.85"/><circle cx="860.8" cy="269.4" r="2.85"/><circle cx="856.6" cy="275.8" r="2.85"/><circle cx="860.9" cy="267.2" r="2.85"/><circle cx="861.5" cy="279.9" r="2.85"/><circle cx="858.2" cy="269.8" r="2.85"/><circle cx="860.3" cy="278.8" r="2.85"/><circle cx="856.5" cy="268.5" r="2.85"/><circle cx="857.4" cy="275.6" r="2.85"/><circle cx="856.4" cy="272.6" r="2.85"/><circle cx="858.7" cy="274.6" r="2.85"/><circle cx="856.1" cy="279.3" r="2.85"/><circle cx="862.4" cy="272.8" r="2.85"/><circle cx="860.9" cy="266.6" r="2.85"/><circle cx="861.7" cy="272.6" r="2.85"/><circle cx="860.6" cy="277.8" r="2.85"/><circle cx="857.7" cy="278.8" r="2.85"/><circle cx="856.5" cy="264.0" r="2.85"/><circle cx="858.7" cy="278.3" r="2.85"/><circle cx="861.7" cy="279.3" r="2.85"/><circle cx="858.8" cy="278.9" r="2.85"/><circle cx="854.4" cy="350.4" r="2.85"/><circle cx="835.4" cy="389.4" r="2.85"/></g>
</g>
<rect x="125.5" y="60.5" width="775" height="385" fill="none" stroke="#000" stroke-width="1.1"/>
<path d="M137.7 445.5v5.1M251.3 445.5v5.1M365.0 445.5v5.1M478.6 445.5v5.1M592.3 445.5v5.1M706.0 445.5v5.1M819.6 445.5v5.1M125.5 445.5h-5.1M125.5 387.7h-5.1M125.5 330.0h-5.1M125.5 272.2h-5.1M125.5 214.5h-5.1M125.5 156.7h-5.1M125.5 98.9h-5.1" stroke="#000" stroke-width="1.1" fill="none"/>
<g font-family="'DejaVu Sans','Liberation Sans',sans-serif" font-size="12.5px" fill="#000">
<text x="137.7" y="464.6" text-anchor="middle" font-size="12.05px">120</text>
<text x="251.3" y="464.6" text-anchor="middle" font-size="12.05px">125</text>
<text x="365.0" y="464.6" text-anchor="middle" font-size="12.05px">130</text>
<text x="478.6" y="464.6" text-anchor="middle" font-size="12.05px">135</text>
<text x="592.3" y="464.6" text-anchor="middle" font-size="12.05px">140</text>
<text x="706.0" y="464.6" text-anchor="middle" font-size="12.05px">145</text>
<text x="819.6" y="464.6" text-anchor="middle" font-size="12.05px">150</text>
<text x="115.8" y="450.0" text-anchor="end" font-size="12.05px">0</text>
<text x="115.8" y="392.2" text-anchor="end" font-size="12.05px">2</text>
<text x="115.8" y="334.5" text-anchor="end" font-size="12.05px">4</text>
<text x="115.8" y="276.7" text-anchor="end" font-size="12.05px">6</text>
<text x="115.8" y="219.0" text-anchor="end" font-size="12.05px">8</text>
<text x="115.8" y="161.2" text-anchor="end" font-size="12.05px">10</text>
<text x="115.8" y="103.4" text-anchor="end" font-size="12.05px">12</text>
<text x="512.5" y="483.2" text-anchor="middle">Time (Year Date)</text>
<text transform="translate(91.1,253.8) rotate(-90)" text-anchor="middle">cnts/s</text>
<rect x="814.5" y="66.5" width="80" height="62" rx="2.8" fill="#fff" fill-opacity="0.8" stroke="#d6d6d6" stroke-width="1"/>
<circle cx="831.5" cy="77.4" r="2.85" fill="#008000"/>
<text x="854.3" y="81.4" font-size="12px">CCD3</text>
<circle cx="831.5" cy="96.5" r="2.85" fill="#0000ff"/>
<text x="854.3" y="100.5" font-size="12px">CCD5</text>
<circle cx="831.5" cy="115.5" r="2.85" fill="#ff0000"/>
<text x="854.3" y="119.5" font-size="12px">CCD7</text>
</g>
</svg></body></html>
